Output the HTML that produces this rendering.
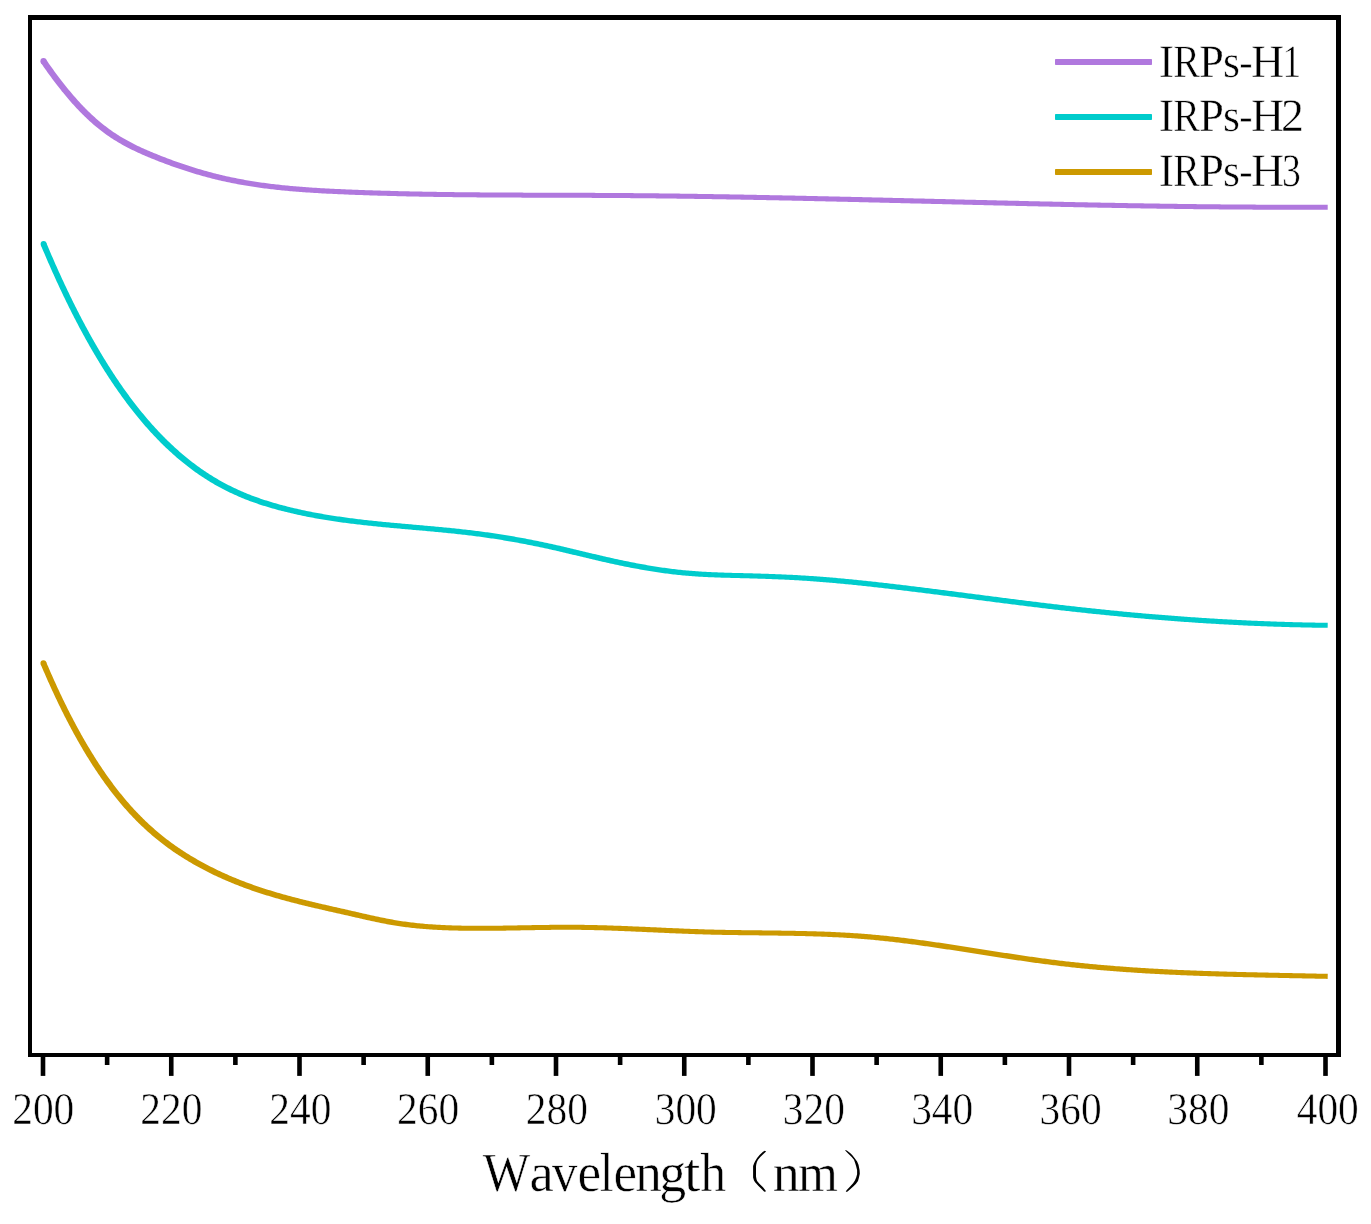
<!DOCTYPE html>
<html><head><meta charset="utf-8"><style>
html,body{margin:0;padding:0;background:#fff;width:1371px;height:1224px;overflow:hidden}
svg{display:block;will-change:transform}
text{font-family:"Liberation Serif",serif;fill:#000;text-rendering:geometricPrecision;stroke:#fff;stroke-width:0.5px}
</style></head><body>
<svg width="1371" height="1224" viewBox="0 0 1371 1224">
<path d="M40.95 62.96 L41.86 64.28 L42.77 65.60 L43.69 66.92 L44.61 68.24 L45.53 69.55 L46.46 70.86 L47.40 72.17 L48.33 73.47 L49.28 74.77 L50.22 76.07 L51.18 77.37 L52.13 78.66 L53.09 79.95 L54.06 81.23 L55.03 82.51 L56.01 83.79 L56.99 85.07 L57.98 86.34 L58.97 87.60 L59.97 88.86 L60.97 90.12 L61.98 91.38 L63.00 92.62 L64.02 93.87 L65.04 95.11 L66.08 96.35 L67.12 97.58 L68.16 98.80 L69.21 100.02 L70.27 101.24 L71.34 102.45 L72.41 103.65 L73.49 104.85 L74.58 106.04 L75.67 107.23 L76.77 108.41 L77.88 109.58 L79.00 110.75 L80.12 111.91 L81.25 113.06 L82.39 114.20 L83.54 115.34 L84.70 116.47 L85.87 117.59 L87.04 118.70 L88.22 119.81 L89.41 120.90 L90.62 121.99 L91.83 123.06 L93.04 124.13 L94.27 125.19 L95.51 126.23 L96.76 127.27 L98.01 128.29 L99.28 129.31 L100.56 130.31 L101.84 131.30 L103.14 132.28 L104.44 133.25 L105.76 134.20 L107.08 135.14 L108.41 136.07 L109.76 136.99 L111.11 137.89 L112.47 138.78 L113.83 139.65 L115.21 140.52 L116.59 141.37 L117.98 142.20 L119.38 143.03 L120.79 143.84 L122.20 144.64 L123.62 145.43 L125.04 146.20 L126.47 146.96 L127.91 147.71 L129.35 148.45 L130.80 149.18 L132.25 149.90 L133.70 150.60 L135.16 151.30 L136.63 151.99 L138.10 152.66 L139.57 153.33 L141.04 153.99 L142.52 154.64 L144.00 155.28 L145.48 155.92 L146.97 156.55 L148.45 157.17 L149.94 157.78 L151.43 158.40 L152.92 159.00 L154.41 159.60 L155.90 160.20 L157.40 160.79 L158.89 161.38 L160.39 161.96 L161.89 162.54 L163.40 163.11 L164.90 163.68 L166.41 164.24 L167.92 164.80 L169.43 165.35 L170.94 165.90 L172.45 166.45 L173.97 166.98 L175.49 167.52 L177.01 168.04 L178.53 168.57 L180.05 169.08 L181.58 169.60 L183.11 170.10 L184.64 170.60 L186.17 171.10 L187.70 171.59 L189.24 172.07 L190.77 172.55 L192.31 173.03 L193.85 173.49 L195.39 173.96 L196.94 174.41 L198.48 174.86 L200.03 175.31 L201.58 175.75 L203.13 176.18 L204.68 176.61 L206.24 177.03 L207.79 177.44 L209.35 177.85 L210.91 178.25 L212.47 178.65 L214.03 179.04 L215.60 179.42 L217.16 179.80 L218.73 180.17 L220.30 180.54 L221.87 180.89 L223.44 181.25 L225.01 181.59 L226.59 181.93 L228.16 182.27 L229.74 182.59 L231.31 182.92 L232.89 183.23 L234.47 183.54 L236.05 183.85 L237.63 184.14 L239.22 184.44 L240.80 184.72 L242.39 185.00 L243.97 185.28 L245.56 185.55 L247.14 185.81 L248.73 186.07 L250.32 186.33 L251.91 186.58 L253.50 186.82 L255.09 187.06 L256.68 187.29 L258.27 187.52 L259.86 187.75 L261.46 187.96 L263.05 188.18 L264.64 188.39 L266.24 188.59 L267.83 188.79 L269.43 188.99 L271.03 189.18 L272.62 189.36 L274.22 189.55 L275.81 189.73 L277.41 189.90 L279.01 190.07 L280.61 190.24 L282.21 190.40 L283.80 190.56 L285.40 190.71 L287.00 190.86 L288.60 191.01 L290.20 191.15 L291.80 191.29 L293.40 191.43 L295.00 191.56 L296.60 191.69 L298.20 191.82 L299.80 191.94 L301.40 192.06 L303.00 192.18 L304.60 192.29 L306.20 192.40 L307.80 192.51 L309.40 192.62 L311.00 192.72 L312.60 192.82 L314.20 192.92 L315.81 193.02 L317.41 193.11 L319.01 193.21 L320.61 193.30 L322.21 193.38 L323.81 193.47 L325.41 193.55 L327.01 193.64 L328.61 193.72 L330.21 193.79 L331.81 193.87 L333.41 193.95 L335.02 194.02 L336.62 194.09 L338.22 194.16 L339.82 194.23 L341.42 194.30 L343.02 194.37 L344.62 194.44 L346.22 194.50 L347.82 194.57 L349.42 194.63 L351.02 194.70 L352.62 194.76 L354.22 194.82 L355.82 194.88 L357.42 194.94 L359.02 195.00 L360.62 195.06 L362.22 195.11 L363.82 195.17 L365.42 195.22 L367.02 195.28 L368.62 195.33 L370.22 195.39 L371.82 195.44 L373.42 195.49 L375.02 195.54 L376.63 195.59 L378.23 195.64 L379.83 195.68 L381.43 195.73 L383.03 195.78 L384.63 195.82 L386.23 195.87 L387.83 195.91 L389.43 195.95 L391.03 196.00 L392.63 196.04 L394.23 196.08 L395.83 196.12 L397.43 196.16 L399.03 196.20 L400.63 196.23 L402.23 196.27 L403.84 196.31 L405.44 196.34 L407.04 196.38 L408.64 196.41 L410.24 196.45 L411.84 196.48 L413.44 196.51 L415.04 196.55 L416.64 196.58 L418.24 196.61 L419.84 196.64 L421.44 196.67 L423.04 196.70 L424.64 196.73 L426.24 196.75 L427.85 196.78 L429.45 196.81 L431.05 196.83 L432.65 196.86 L434.25 196.88 L435.85 196.91 L437.45 196.93 L439.05 196.96 L440.65 196.98 L442.25 197.00 L443.85 197.02 L445.45 197.04 L447.05 197.06 L448.65 197.09 L450.25 197.10 L451.86 197.12 L453.46 197.14 L455.06 197.16 L456.66 197.18 L458.26 197.20 L459.86 197.21 L461.46 197.23 L463.06 197.25 L464.66 197.26 L466.26 197.28 L467.86 197.29 L469.46 197.31 L471.06 197.32 L472.66 197.34 L474.26 197.35 L475.86 197.36 L477.46 197.38 L479.06 197.39 L480.67 197.40 L482.27 197.41 L483.87 197.43 L485.47 197.44 L487.07 197.45 L488.67 197.46 L490.27 197.47 L491.87 197.48 L493.47 197.49 L495.07 197.50 L496.67 197.51 L498.27 197.52 L499.87 197.53 L501.47 197.54 L503.07 197.54 L504.67 197.55 L506.27 197.56 L507.87 197.57 L509.47 197.58 L511.07 197.58 L512.67 197.59 L514.27 197.60 L515.87 197.60 L517.47 197.61 L519.07 197.62 L520.67 197.62 L522.27 197.63 L523.87 197.64 L525.47 197.64 L527.07 197.65 L528.67 197.65 L530.28 197.66 L531.88 197.67 L533.48 197.67 L535.08 197.68 L536.68 197.68 L538.28 197.69 L539.88 197.69 L541.48 197.70 L543.08 197.70 L544.68 197.71 L546.28 197.71 L547.88 197.72 L549.48 197.72 L551.08 197.73 L552.68 197.73 L554.28 197.74 L555.88 197.74 L557.48 197.75 L559.08 197.75 L560.68 197.76 L562.28 197.76 L563.88 197.77 L565.48 197.77 L567.08 197.78 L568.68 197.78 L570.28 197.79 L571.88 197.80 L573.48 197.80 L575.07 197.81 L576.67 197.81 L578.27 197.82 L579.87 197.82 L581.47 197.83 L583.07 197.84 L584.67 197.84 L586.27 197.85 L587.87 197.86 L589.47 197.86 L591.07 197.87 L592.67 197.88 L594.27 197.89 L595.87 197.89 L597.47 197.90 L599.07 197.91 L600.67 197.92 L602.27 197.93 L603.87 197.94 L605.47 197.95 L607.07 197.96 L608.67 197.96 L610.27 197.97 L611.87 197.98 L613.47 198.00 L615.07 198.01 L616.67 198.02 L618.27 198.03 L619.87 198.04 L621.46 198.05 L623.06 198.06 L624.66 198.08 L626.26 198.09 L627.86 198.10 L629.46 198.12 L631.06 198.13 L632.66 198.14 L634.26 198.16 L635.86 198.17 L637.46 198.19 L639.06 198.20 L640.66 198.22 L642.26 198.23 L643.86 198.25 L645.46 198.26 L647.06 198.28 L648.66 198.30 L650.26 198.31 L651.86 198.33 L653.45 198.35 L655.05 198.36 L656.65 198.38 L658.25 198.40 L659.85 198.42 L661.45 198.44 L663.05 198.46 L664.65 198.47 L666.25 198.49 L667.85 198.51 L669.45 198.53 L671.05 198.55 L672.65 198.57 L674.25 198.59 L675.85 198.61 L677.45 198.63 L679.05 198.66 L680.65 198.68 L682.25 198.70 L683.85 198.72 L685.45 198.74 L687.04 198.76 L688.64 198.79 L690.24 198.81 L691.84 198.83 L693.44 198.86 L695.04 198.88 L696.64 198.90 L698.24 198.93 L699.84 198.95 L701.44 198.97 L703.04 199.00 L704.64 199.02 L706.24 199.05 L707.84 199.07 L709.44 199.10 L711.04 199.12 L712.64 199.15 L714.24 199.17 L715.84 199.20 L717.43 199.23 L719.03 199.25 L720.63 199.28 L722.23 199.31 L723.83 199.33 L725.43 199.36 L727.03 199.39 L728.63 199.41 L730.23 199.44 L731.83 199.47 L733.43 199.50 L735.03 199.53 L736.63 199.55 L738.23 199.58 L739.83 199.61 L741.43 199.64 L743.03 199.67 L744.63 199.70 L746.23 199.73 L747.82 199.76 L749.42 199.79 L751.02 199.82 L752.62 199.85 L754.22 199.88 L755.82 199.91 L757.42 199.94 L759.02 199.97 L760.62 200.00 L762.22 200.03 L763.82 200.06 L765.42 200.09 L767.02 200.13 L768.62 200.16 L770.22 200.19 L771.82 200.22 L773.42 200.25 L775.02 200.28 L776.62 200.32 L778.21 200.35 L779.81 200.38 L781.41 200.41 L783.01 200.45 L784.61 200.48 L786.21 200.51 L787.81 200.55 L789.41 200.58 L791.01 200.61 L792.61 200.65 L794.21 200.68 L795.81 200.71 L797.41 200.75 L799.01 200.78 L800.61 200.82 L802.21 200.85 L803.81 200.89 L805.41 200.92 L807.00 200.95 L808.60 200.99 L810.20 201.02 L811.80 201.06 L813.40 201.09 L815.00 201.13 L816.60 201.17 L818.20 201.20 L819.80 201.24 L821.40 201.27 L823.00 201.31 L824.60 201.34 L826.20 201.38 L827.80 201.42 L829.40 201.45 L831.00 201.49 L832.60 201.52 L834.20 201.56 L835.79 201.60 L837.39 201.63 L838.99 201.67 L840.59 201.71 L842.19 201.74 L843.79 201.78 L845.39 201.82 L846.99 201.85 L848.59 201.89 L850.19 201.93 L851.79 201.97 L853.39 202.00 L854.99 202.04 L856.59 202.08 L858.19 202.11 L859.79 202.15 L861.39 202.19 L862.99 202.23 L864.58 202.27 L866.18 202.30 L867.78 202.34 L869.38 202.38 L870.98 202.42 L872.58 202.45 L874.18 202.49 L875.78 202.53 L877.38 202.57 L878.98 202.61 L880.58 202.65 L882.18 202.68 L883.78 202.72 L885.38 202.76 L886.98 202.80 L888.58 202.84 L890.18 202.88 L891.78 202.91 L893.38 202.95 L894.97 202.99 L896.57 203.03 L898.17 203.07 L899.77 203.11 L901.37 203.15 L902.97 203.18 L904.57 203.22 L906.17 203.26 L907.77 203.30 L909.37 203.34 L910.97 203.38 L912.57 203.42 L914.17 203.46 L915.77 203.49 L917.37 203.53 L918.97 203.57 L920.57 203.61 L922.17 203.65 L923.77 203.69 L925.37 203.73 L926.96 203.77 L928.56 203.81 L930.16 203.84 L931.76 203.88 L933.36 203.92 L934.96 203.96 L936.56 204.00 L938.16 204.04 L939.76 204.08 L941.36 204.12 L942.96 204.16 L944.56 204.19 L946.16 204.23 L947.76 204.27 L949.36 204.31 L950.96 204.35 L952.56 204.39 L954.16 204.43 L955.76 204.47 L957.36 204.50 L958.96 204.54 L960.56 204.58 L962.16 204.62 L963.75 204.66 L965.35 204.70 L966.95 204.73 L968.55 204.77 L970.15 204.81 L971.75 204.85 L973.35 204.89 L974.95 204.93 L976.55 204.96 L978.15 205.00 L979.75 205.04 L981.35 205.08 L982.95 205.12 L984.55 205.16 L986.15 205.19 L987.75 205.23 L989.35 205.27 L990.95 205.31 L992.55 205.34 L994.15 205.38 L995.75 205.42 L997.35 205.46 L998.95 205.49 L1000.55 205.53 L1002.15 205.57 L1003.75 205.61 L1005.35 205.64 L1006.94 205.68 L1008.54 205.72 L1010.14 205.75 L1011.74 205.79 L1013.34 205.83 L1014.94 205.86 L1016.54 205.90 L1018.14 205.94 L1019.74 205.97 L1021.34 206.01 L1022.94 206.05 L1024.54 206.08 L1026.14 206.12 L1027.74 206.16 L1029.34 206.19 L1030.94 206.23 L1032.54 206.26 L1034.14 206.30 L1035.74 206.33 L1037.34 206.37 L1038.94 206.41 L1040.54 206.44 L1042.14 206.48 L1043.74 206.51 L1045.34 206.55 L1046.94 206.58 L1048.54 206.62 L1050.14 206.65 L1051.74 206.68 L1053.34 206.72 L1054.94 206.75 L1056.54 206.79 L1058.14 206.82 L1059.74 206.86 L1061.34 206.89 L1062.94 206.92 L1064.54 206.96 L1066.14 206.99 L1067.74 207.02 L1069.34 207.06 L1070.94 207.09 L1072.54 207.12 L1074.14 207.15 L1075.74 207.19 L1077.34 207.22 L1078.93 207.25 L1080.53 207.28 L1082.13 207.32 L1083.73 207.35 L1085.33 207.38 L1086.93 207.41 L1088.53 207.44 L1090.13 207.48 L1091.73 207.51 L1093.33 207.54 L1094.93 207.57 L1096.53 207.60 L1098.13 207.63 L1099.73 207.66 L1101.33 207.69 L1102.93 207.72 L1104.53 207.75 L1106.13 207.78 L1107.73 207.81 L1109.33 207.84 L1110.93 207.87 L1112.53 207.90 L1114.13 207.93 L1115.73 207.96 L1117.33 207.98 L1118.93 208.01 L1120.53 208.04 L1122.13 208.07 L1123.73 208.10 L1125.33 208.12 L1126.93 208.15 L1128.53 208.18 L1130.13 208.21 L1131.73 208.23 L1133.33 208.26 L1134.93 208.29 L1136.53 208.31 L1138.13 208.34 L1139.73 208.37 L1141.33 208.39 L1142.93 208.42 L1144.53 208.44 L1146.14 208.47 L1147.74 208.49 L1149.34 208.52 L1150.94 208.54 L1152.54 208.57 L1154.14 208.59 L1155.74 208.62 L1157.34 208.64 L1158.94 208.66 L1160.54 208.69 L1162.14 208.71 L1163.74 208.73 L1165.34 208.76 L1166.94 208.78 L1168.54 208.80 L1170.14 208.82 L1171.74 208.84 L1173.34 208.87 L1174.94 208.89 L1176.54 208.91 L1178.14 208.93 L1179.74 208.95 L1181.34 208.97 L1182.94 208.99 L1184.54 209.01 L1186.14 209.03 L1187.74 209.05 L1189.34 209.07 L1190.94 209.09 L1192.54 209.11 L1194.14 209.13 L1195.74 209.14 L1197.34 209.16 L1198.94 209.18 L1200.54 209.20 L1202.14 209.22 L1203.74 209.23 L1205.34 209.25 L1206.94 209.27 L1208.54 209.28 L1210.14 209.30 L1211.74 209.31 L1213.34 209.33 L1214.94 209.34 L1216.55 209.36 L1218.15 209.37 L1219.75 209.39 L1221.35 209.40 L1222.95 209.42 L1224.55 209.43 L1226.15 209.44 L1227.75 209.46 L1229.35 209.47 L1230.95 209.48 L1232.55 209.50 L1234.15 209.51 L1235.75 209.52 L1237.35 209.53 L1238.95 209.54 L1240.55 209.55 L1242.15 209.56 L1243.75 209.57 L1245.35 209.58 L1246.95 209.59 L1248.55 209.60 L1250.15 209.61 L1251.75 209.62 L1253.35 209.63 L1254.95 209.64 L1256.56 209.65 L1258.16 209.65 L1259.76 209.66 L1261.36 209.67 L1262.96 209.67 L1264.56 209.68 L1266.16 209.69 L1267.76 209.69 L1269.36 209.70 L1270.96 209.70 L1272.56 209.71 L1274.16 209.71 L1275.76 209.72 L1277.36 209.72 L1278.96 209.72 L1280.56 209.73 L1282.16 209.73 L1283.76 209.73 L1285.36 209.74 L1286.96 209.74 L1288.56 209.74 L1290.17 209.74 L1291.77 209.74 L1293.37 209.74 L1294.97 209.74 L1296.57 209.74 L1298.17 209.74 L1299.77 209.74 L1301.37 209.74 L1302.97 209.74 L1304.57 209.74 L1306.17 209.74 L1307.77 209.74 L1309.37 209.73 L1310.97 209.73 L1312.57 209.73 L1314.17 209.73 L1315.77 209.72 L1317.37 209.72 L1318.98 209.71 L1320.58 209.71 L1322.18 209.70 L1323.78 209.70 L1325.38 209.69 L1325.51 209.69 L1327.71 209.68 L1327.69 204.67 L1325.49 204.68 L1325.36 204.68 L1323.76 204.69 L1322.16 204.69 L1320.56 204.70 L1318.96 204.71 L1317.36 204.71 L1315.76 204.71 L1314.16 204.72 L1312.56 204.72 L1310.96 204.73 L1309.36 204.73 L1307.76 204.73 L1306.16 204.73 L1304.57 204.74 L1302.97 204.74 L1301.37 204.74 L1299.77 204.74 L1298.17 204.74 L1296.57 204.74 L1294.97 204.74 L1293.37 204.74 L1291.77 204.74 L1290.17 204.74 L1288.57 204.74 L1286.97 204.73 L1285.37 204.73 L1283.77 204.73 L1282.17 204.72 L1280.57 204.72 L1278.97 204.72 L1277.37 204.71 L1275.77 204.71 L1274.18 204.70 L1272.58 204.70 L1270.98 204.69 L1269.38 204.69 L1267.78 204.68 L1266.18 204.68 L1264.58 204.67 L1262.98 204.66 L1261.38 204.65 L1259.78 204.65 L1258.18 204.64 L1256.58 204.63 L1254.98 204.62 L1253.38 204.61 L1251.78 204.60 L1250.18 204.59 L1248.58 204.58 L1246.98 204.57 L1245.38 204.56 L1243.78 204.55 L1242.19 204.54 L1240.59 204.53 L1238.99 204.52 L1237.39 204.51 L1235.79 204.50 L1234.19 204.48 L1232.59 204.47 L1230.99 204.46 L1229.39 204.45 L1227.79 204.43 L1226.19 204.42 L1224.59 204.41 L1222.99 204.39 L1221.39 204.38 L1219.79 204.36 L1218.19 204.35 L1216.59 204.33 L1214.99 204.32 L1213.39 204.30 L1211.79 204.28 L1210.19 204.27 L1208.60 204.25 L1207.00 204.23 L1205.40 204.22 L1203.80 204.20 L1202.20 204.18 L1200.60 204.16 L1199.00 204.15 L1197.40 204.13 L1195.80 204.11 L1194.20 204.09 L1192.60 204.07 L1191.00 204.05 L1189.40 204.03 L1187.80 204.01 L1186.20 203.99 L1184.60 203.97 L1183.00 203.95 L1181.40 203.93 L1179.80 203.91 L1178.20 203.89 L1176.61 203.87 L1175.01 203.85 L1173.41 203.83 L1171.81 203.80 L1170.21 203.78 L1168.61 203.76 L1167.01 203.74 L1165.41 203.71 L1163.81 203.69 L1162.21 203.67 L1160.61 203.64 L1159.01 203.62 L1157.41 203.60 L1155.81 203.57 L1154.21 203.55 L1152.61 203.52 L1151.01 203.50 L1149.41 203.47 L1147.81 203.45 L1146.21 203.42 L1144.62 203.40 L1143.02 203.37 L1141.42 203.34 L1139.82 203.32 L1138.22 203.29 L1136.62 203.26 L1135.02 203.24 L1133.42 203.21 L1131.82 203.18 L1130.22 203.16 L1128.62 203.13 L1127.02 203.10 L1125.42 203.07 L1123.82 203.05 L1122.22 203.02 L1120.62 202.99 L1119.02 202.96 L1117.42 202.93 L1115.83 202.90 L1114.23 202.87 L1112.63 202.84 L1111.03 202.81 L1109.43 202.79 L1107.83 202.76 L1106.23 202.73 L1104.63 202.70 L1103.03 202.66 L1101.43 202.63 L1099.83 202.60 L1098.23 202.57 L1096.63 202.54 L1095.03 202.51 L1093.43 202.48 L1091.83 202.45 L1090.23 202.42 L1088.63 202.39 L1087.03 202.35 L1085.44 202.32 L1083.84 202.29 L1082.24 202.26 L1080.64 202.23 L1079.04 202.19 L1077.44 202.16 L1075.84 202.13 L1074.24 202.09 L1072.64 202.06 L1071.04 202.03 L1069.44 202.00 L1067.84 201.96 L1066.24 201.93 L1064.64 201.89 L1063.04 201.86 L1061.44 201.83 L1059.84 201.79 L1058.24 201.76 L1056.65 201.72 L1055.05 201.69 L1053.45 201.66 L1051.85 201.62 L1050.25 201.59 L1048.65 201.55 L1047.05 201.52 L1045.45 201.48 L1043.85 201.45 L1042.25 201.41 L1040.65 201.38 L1039.05 201.34 L1037.45 201.31 L1035.85 201.27 L1034.25 201.23 L1032.65 201.20 L1031.05 201.16 L1029.45 201.13 L1027.86 201.09 L1026.26 201.05 L1024.66 201.02 L1023.06 200.98 L1021.46 200.94 L1019.86 200.91 L1018.26 200.87 L1016.66 200.83 L1015.06 200.80 L1013.46 200.76 L1011.86 200.72 L1010.26 200.69 L1008.66 200.65 L1007.06 200.61 L1005.46 200.58 L1003.86 200.54 L1002.26 200.50 L1000.66 200.46 L999.07 200.43 L997.47 200.39 L995.87 200.35 L994.27 200.31 L992.67 200.28 L991.07 200.24 L989.47 200.20 L987.87 200.16 L986.27 200.12 L984.67 200.09 L983.07 200.05 L981.47 200.01 L979.87 199.97 L978.27 199.93 L976.67 199.90 L975.07 199.86 L973.47 199.82 L971.87 199.78 L970.27 199.74 L968.68 199.70 L967.08 199.66 L965.48 199.63 L963.88 199.59 L962.28 199.55 L960.68 199.51 L959.08 199.47 L957.48 199.43 L955.88 199.39 L954.28 199.36 L952.68 199.32 L951.08 199.28 L949.48 199.24 L947.88 199.20 L946.28 199.16 L944.68 199.12 L943.08 199.08 L941.48 199.05 L939.88 199.01 L938.28 198.97 L936.69 198.93 L935.09 198.89 L933.49 198.85 L931.89 198.81 L930.29 198.77 L928.69 198.73 L927.09 198.70 L925.49 198.66 L923.89 198.62 L922.29 198.58 L920.69 198.54 L919.09 198.50 L917.49 198.46 L915.89 198.42 L914.29 198.38 L912.69 198.35 L911.09 198.31 L909.49 198.27 L907.89 198.23 L906.29 198.19 L904.69 198.15 L903.09 198.11 L901.50 198.08 L899.90 198.04 L898.30 198.00 L896.70 197.96 L895.10 197.92 L893.50 197.88 L891.90 197.84 L890.30 197.81 L888.70 197.77 L887.10 197.73 L885.50 197.69 L883.90 197.65 L882.30 197.61 L880.70 197.58 L879.10 197.54 L877.50 197.50 L875.90 197.46 L874.30 197.42 L872.70 197.39 L871.10 197.35 L869.50 197.31 L867.90 197.27 L866.30 197.23 L864.70 197.20 L863.10 197.16 L861.50 197.12 L859.91 197.08 L858.31 197.05 L856.71 197.01 L855.11 196.97 L853.51 196.93 L851.91 196.90 L850.31 196.86 L848.71 196.82 L847.11 196.79 L845.51 196.75 L843.91 196.71 L842.31 196.68 L840.71 196.64 L839.11 196.60 L837.51 196.57 L835.91 196.53 L834.31 196.49 L832.71 196.46 L831.11 196.42 L829.51 196.39 L827.91 196.35 L826.31 196.31 L824.71 196.28 L823.11 196.24 L821.51 196.21 L819.91 196.17 L818.31 196.14 L816.71 196.10 L815.11 196.07 L813.51 196.03 L811.91 196.00 L810.31 195.96 L808.71 195.93 L807.11 195.89 L805.51 195.86 L803.91 195.82 L802.31 195.79 L800.71 195.75 L799.12 195.72 L797.52 195.69 L795.92 195.65 L794.32 195.62 L792.72 195.59 L791.12 195.55 L789.52 195.52 L787.92 195.49 L786.32 195.45 L784.72 195.42 L783.12 195.39 L781.52 195.35 L779.92 195.32 L778.32 195.29 L776.72 195.26 L775.12 195.23 L773.52 195.19 L771.92 195.16 L770.32 195.13 L768.72 195.10 L767.12 195.07 L765.52 195.04 L763.92 195.01 L762.32 194.97 L760.72 194.94 L759.12 194.91 L757.52 194.88 L755.92 194.85 L754.32 194.82 L752.72 194.79 L751.12 194.76 L749.52 194.73 L747.92 194.70 L746.32 194.67 L744.72 194.65 L743.12 194.62 L741.52 194.59 L739.92 194.56 L738.32 194.53 L736.72 194.50 L735.12 194.47 L733.52 194.45 L731.92 194.42 L730.32 194.39 L728.72 194.36 L727.12 194.34 L725.52 194.31 L723.92 194.28 L722.32 194.26 L720.72 194.23 L719.12 194.20 L717.52 194.18 L715.92 194.15 L714.32 194.13 L712.72 194.10 L711.12 194.08 L709.52 194.05 L707.92 194.03 L706.32 194.00 L704.72 193.98 L703.12 193.95 L701.52 193.93 L699.92 193.91 L698.32 193.88 L696.72 193.86 L695.12 193.84 L693.51 193.81 L691.91 193.79 L690.31 193.77 L688.71 193.75 L687.11 193.72 L685.51 193.70 L683.91 193.68 L682.31 193.66 L680.71 193.64 L679.11 193.62 L677.51 193.60 L675.91 193.58 L674.31 193.56 L672.71 193.54 L671.11 193.52 L669.51 193.50 L667.91 193.48 L666.31 193.46 L664.71 193.44 L663.11 193.42 L661.51 193.40 L659.91 193.38 L658.31 193.37 L656.71 193.35 L655.11 193.33 L653.51 193.31 L651.91 193.30 L650.31 193.28 L648.71 193.27 L647.11 193.25 L645.51 193.23 L643.91 193.22 L642.31 193.20 L640.71 193.19 L639.11 193.17 L637.51 193.16 L635.91 193.14 L634.30 193.13 L632.70 193.12 L631.10 193.10 L629.50 193.09 L627.90 193.08 L626.30 193.07 L624.70 193.05 L623.10 193.04 L621.50 193.03 L619.90 193.02 L618.30 193.01 L616.70 193.00 L615.10 192.99 L613.50 192.98 L611.90 192.97 L610.30 192.96 L608.70 192.95 L607.10 192.94 L605.50 192.93 L603.90 192.92 L602.30 192.91 L600.70 192.90 L599.10 192.90 L597.50 192.89 L595.90 192.88 L594.30 192.87 L592.70 192.87 L591.09 192.86 L589.49 192.85 L587.89 192.84 L586.29 192.84 L584.69 192.83 L583.09 192.83 L581.49 192.82 L579.89 192.81 L578.29 192.81 L576.69 192.80 L575.09 192.80 L573.49 192.79 L571.89 192.78 L570.29 192.78 L568.69 192.77 L567.09 192.77 L565.49 192.76 L563.89 192.76 L562.29 192.75 L560.69 192.75 L559.09 192.74 L557.49 192.74 L555.89 192.73 L554.29 192.73 L552.69 192.72 L551.09 192.72 L549.49 192.71 L547.89 192.71 L546.29 192.70 L544.69 192.70 L543.09 192.69 L541.49 192.69 L539.89 192.68 L538.29 192.68 L536.69 192.67 L535.09 192.67 L533.49 192.66 L531.89 192.65 L530.29 192.65 L528.69 192.64 L527.09 192.64 L525.49 192.63 L523.89 192.63 L522.29 192.62 L520.69 192.61 L519.09 192.61 L517.49 192.60 L515.90 192.59 L514.30 192.58 L512.70 192.58 L511.10 192.57 L509.50 192.56 L507.90 192.55 L506.30 192.55 L504.70 192.54 L503.10 192.53 L501.50 192.52 L499.90 192.51 L498.30 192.50 L496.70 192.49 L495.10 192.48 L493.50 192.47 L491.90 192.46 L490.30 192.45 L488.70 192.44 L487.10 192.43 L485.50 192.42 L483.90 192.40 L482.30 192.39 L480.70 192.38 L479.10 192.37 L477.51 192.35 L475.91 192.34 L474.31 192.33 L472.71 192.31 L471.11 192.30 L469.51 192.28 L467.91 192.27 L466.31 192.25 L464.71 192.23 L463.11 192.22 L461.51 192.20 L459.91 192.18 L458.31 192.16 L456.71 192.15 L455.12 192.13 L453.52 192.11 L451.92 192.09 L450.32 192.07 L448.72 192.05 L447.12 192.03 L445.52 192.00 L443.92 191.98 L442.32 191.96 L440.72 191.94 L439.12 191.91 L437.53 191.89 L435.93 191.86 L434.33 191.84 L432.73 191.81 L431.13 191.78 L429.53 191.76 L427.93 191.73 L426.33 191.70 L424.73 191.67 L423.14 191.64 L421.54 191.61 L419.94 191.58 L418.34 191.55 L416.74 191.52 L415.14 191.49 L413.54 191.45 L411.94 191.42 L410.35 191.39 L408.75 191.35 L407.15 191.31 L405.55 191.28 L403.95 191.24 L402.35 191.20 L400.76 191.16 L399.16 191.13 L397.56 191.09 L395.96 191.04 L394.36 191.00 L392.76 190.96 L391.17 190.92 L389.57 190.87 L387.97 190.83 L386.37 190.79 L384.77 190.74 L383.17 190.69 L381.58 190.65 L379.98 190.60 L378.38 190.55 L376.78 190.50 L375.19 190.45 L373.59 190.40 L371.99 190.34 L370.39 190.29 L368.79 190.24 L367.20 190.18 L365.60 190.13 L364.00 190.07 L362.40 190.01 L360.81 189.95 L359.21 189.89 L357.61 189.83 L356.01 189.77 L354.42 189.71 L352.82 189.65 L351.22 189.58 L349.62 189.52 L348.03 189.45 L346.43 189.39 L344.83 189.32 L343.24 189.25 L341.64 189.18 L340.04 189.11 L338.45 189.04 L336.85 188.96 L335.25 188.89 L333.66 188.81 L332.06 188.73 L330.47 188.65 L328.87 188.57 L327.28 188.49 L325.68 188.41 L324.09 188.32 L322.49 188.23 L320.90 188.14 L319.31 188.05 L317.71 187.95 L316.12 187.85 L314.53 187.75 L312.93 187.65 L311.34 187.54 L309.75 187.44 L308.16 187.33 L306.57 187.21 L304.98 187.10 L303.39 186.98 L301.79 186.86 L300.20 186.73 L298.62 186.60 L297.03 186.47 L295.44 186.34 L293.85 186.20 L292.26 186.06 L290.67 185.91 L289.09 185.76 L287.50 185.61 L285.91 185.46 L284.33 185.30 L282.74 185.13 L281.16 184.97 L279.58 184.80 L277.99 184.62 L276.41 184.44 L274.83 184.26 L273.25 184.07 L271.66 183.88 L270.08 183.68 L268.51 183.48 L266.93 183.27 L265.35 183.06 L263.77 182.85 L262.19 182.63 L260.62 182.41 L259.04 182.18 L257.47 181.94 L255.90 181.70 L254.33 181.46 L252.75 181.21 L251.18 180.96 L249.61 180.70 L248.05 180.43 L246.48 180.16 L244.91 179.89 L243.35 179.61 L241.78 179.32 L240.22 179.03 L238.66 178.73 L237.10 178.43 L235.54 178.12 L233.98 177.80 L232.43 177.48 L230.87 177.16 L229.32 176.83 L227.77 176.49 L226.22 176.14 L224.67 175.79 L223.12 175.44 L221.57 175.08 L220.03 174.71 L218.48 174.33 L216.94 173.95 L215.40 173.57 L213.86 173.17 L212.33 172.77 L210.79 172.37 L209.26 171.96 L207.73 171.54 L206.19 171.12 L204.66 170.69 L203.14 170.25 L201.61 169.81 L200.09 169.37 L198.56 168.92 L197.04 168.46 L195.52 168.00 L194.01 167.53 L192.49 167.05 L190.97 166.57 L189.46 166.09 L187.95 165.60 L186.44 165.10 L184.93 164.60 L183.43 164.09 L181.92 163.58 L180.42 163.07 L178.92 162.54 L177.42 162.02 L175.92 161.48 L174.43 160.95 L172.93 160.41 L171.44 159.86 L169.95 159.31 L168.46 158.75 L166.98 158.19 L165.49 157.62 L164.01 157.05 L162.53 156.47 L161.05 155.89 L159.57 155.31 L158.09 154.72 L156.62 154.12 L155.14 153.52 L153.67 152.92 L152.21 152.31 L150.74 151.70 L149.28 151.08 L147.82 150.45 L146.37 149.82 L144.92 149.19 L143.48 148.54 L142.04 147.89 L140.60 147.23 L139.17 146.56 L137.75 145.88 L136.33 145.19 L134.91 144.50 L133.51 143.79 L132.10 143.07 L130.71 142.35 L129.32 141.61 L127.94 140.86 L126.56 140.10 L125.19 139.33 L123.83 138.55 L122.48 137.76 L121.13 136.95 L119.79 136.14 L118.46 135.31 L117.14 134.47 L115.83 133.62 L114.52 132.75 L113.22 131.88 L111.93 130.99 L110.65 130.09 L109.38 129.18 L108.12 128.25 L106.86 127.32 L105.62 126.37 L104.38 125.41 L103.15 124.44 L101.93 123.46 L100.72 122.46 L99.52 121.46 L98.32 120.45 L97.14 119.42 L95.96 118.39 L94.79 117.34 L93.62 116.29 L92.47 115.22 L91.32 114.15 L90.18 113.07 L89.05 111.98 L87.92 110.88 L86.81 109.78 L85.70 108.66 L84.59 107.54 L83.50 106.41 L82.41 105.27 L81.32 104.13 L80.25 102.98 L79.18 101.82 L78.12 100.65 L77.06 99.48 L76.01 98.31 L74.96 97.12 L73.93 95.93 L72.89 94.74 L71.87 93.54 L70.85 92.33 L69.83 91.12 L68.82 89.90 L67.82 88.68 L66.82 87.46 L65.83 86.23 L64.84 84.99 L63.86 83.75 L62.88 82.51 L61.90 81.26 L60.94 80.01 L59.97 78.75 L59.01 77.49 L58.06 76.22 L57.11 74.95 L56.17 73.68 L55.22 72.41 L54.29 71.13 L53.36 69.84 L52.43 68.56 L51.51 67.27 L50.59 65.98 L49.67 64.68 L48.76 63.38 L47.85 62.08 L46.95 60.77 L46.05 59.47 Z" fill="#b078de"/><circle cx="43.50" cy="61.21" r="3.09" fill="#b078de"/>
<path d="M40.86 245.22 L41.48 246.70 L42.10 248.18 L42.72 249.65 L43.34 251.13 L43.97 252.60 L44.60 254.08 L45.23 255.55 L45.86 257.02 L46.49 258.49 L47.13 259.96 L47.76 261.43 L48.40 262.90 L49.04 264.37 L49.69 265.83 L50.33 267.30 L50.98 268.76 L51.63 270.23 L52.28 271.69 L52.94 273.15 L53.60 274.61 L54.25 276.07 L54.92 277.53 L55.58 278.99 L56.24 280.45 L56.91 281.90 L57.58 283.36 L58.26 284.81 L58.93 286.27 L59.61 287.72 L60.29 289.17 L60.97 290.62 L61.65 292.07 L62.34 293.51 L63.03 294.96 L63.72 296.41 L64.42 297.85 L65.12 299.29 L65.82 300.73 L66.52 302.17 L67.22 303.61 L67.93 305.05 L68.64 306.49 L69.35 307.92 L70.07 309.36 L70.79 310.79 L71.51 312.22 L72.23 313.65 L72.96 315.08 L73.69 316.51 L74.42 317.93 L75.15 319.36 L75.89 320.78 L76.63 322.20 L77.37 323.62 L78.12 325.04 L78.87 326.46 L79.62 327.88 L80.38 329.29 L81.13 330.70 L81.89 332.12 L82.66 333.52 L83.43 334.93 L84.20 336.34 L84.97 337.74 L85.75 339.15 L86.53 340.55 L87.31 341.95 L88.10 343.34 L88.89 344.74 L89.68 346.14 L90.48 347.53 L91.28 348.92 L92.08 350.31 L92.89 351.69 L93.69 353.08 L94.51 354.46 L95.33 355.84 L96.15 357.22 L96.97 358.60 L97.80 359.97 L98.63 361.34 L99.46 362.71 L100.30 364.08 L101.15 365.45 L101.99 366.81 L102.84 368.17 L103.70 369.53 L104.55 370.89 L105.41 372.24 L106.28 373.60 L107.15 374.94 L108.02 376.29 L108.90 377.64 L109.78 378.98 L110.67 380.32 L111.56 381.65 L112.45 382.99 L113.35 384.32 L114.25 385.65 L115.16 386.97 L116.07 388.30 L116.98 389.62 L117.90 390.93 L118.83 392.25 L119.76 393.56 L120.69 394.87 L121.63 396.17 L122.57 397.47 L123.52 398.77 L124.47 400.07 L125.42 401.36 L126.39 402.65 L127.35 403.93 L128.32 405.21 L129.30 406.49 L130.28 407.77 L131.26 409.04 L132.25 410.31 L133.25 411.57 L134.25 412.83 L135.25 414.08 L136.26 415.34 L137.28 416.58 L138.30 417.83 L139.32 419.07 L140.35 420.30 L141.39 421.53 L142.43 422.76 L143.48 423.98 L144.53 425.20 L145.59 426.41 L146.65 427.62 L147.72 428.83 L148.80 430.02 L149.88 431.22 L150.96 432.41 L152.06 433.59 L153.15 434.77 L154.26 435.95 L155.37 437.11 L156.48 438.28 L157.60 439.44 L158.73 440.59 L159.86 441.73 L161.00 442.88 L162.14 444.01 L163.29 445.14 L164.45 446.26 L165.61 447.38 L166.78 448.49 L167.96 449.60 L169.14 450.70 L170.32 451.79 L171.52 452.87 L172.72 453.95 L173.92 455.03 L175.13 456.09 L176.35 457.15 L177.58 458.20 L178.81 459.25 L180.05 460.28 L181.29 461.31 L182.54 462.34 L183.79 463.35 L185.06 464.36 L186.33 465.36 L187.60 466.35 L188.88 467.33 L190.17 468.31 L191.47 469.28 L192.77 470.23 L194.07 471.19 L195.39 472.13 L196.71 473.06 L198.03 473.99 L199.36 474.90 L200.70 475.81 L202.05 476.71 L203.40 477.60 L204.75 478.48 L206.12 479.35 L207.49 480.21 L208.86 481.06 L210.24 481.91 L211.63 482.74 L213.02 483.56 L214.42 484.38 L215.82 485.18 L217.23 485.98 L218.65 486.76 L220.07 487.53 L221.50 488.30 L222.93 489.05 L224.37 489.79 L225.81 490.53 L227.26 491.25 L228.71 491.96 L230.17 492.66 L231.63 493.36 L233.10 494.04 L234.57 494.71 L236.05 495.37 L237.53 496.02 L239.01 496.67 L240.50 497.30 L241.99 497.92 L243.49 498.53 L244.99 499.13 L246.50 499.73 L248.00 500.31 L249.51 500.88 L251.03 501.45 L252.55 502.00 L254.07 502.55 L255.59 503.08 L257.12 503.61 L258.65 504.13 L260.18 504.64 L261.72 505.14 L263.25 505.63 L264.79 506.11 L266.33 506.59 L267.88 507.06 L269.42 507.52 L270.97 507.97 L272.52 508.42 L274.07 508.85 L275.63 509.29 L277.18 509.71 L278.74 510.13 L280.30 510.54 L281.86 510.94 L283.42 511.34 L284.98 511.73 L286.54 512.12 L288.10 512.50 L289.67 512.87 L291.24 513.24 L292.80 513.60 L294.37 513.96 L295.94 514.31 L297.51 514.66 L299.09 515.00 L300.66 515.34 L302.23 515.67 L303.81 515.99 L305.39 516.31 L306.96 516.63 L308.54 516.94 L310.12 517.24 L311.70 517.55 L313.28 517.84 L314.86 518.13 L316.44 518.42 L318.03 518.70 L319.61 518.98 L321.19 519.25 L322.78 519.52 L324.36 519.78 L325.95 520.04 L327.54 520.29 L329.12 520.54 L330.71 520.79 L332.30 521.03 L333.89 521.27 L335.48 521.51 L337.07 521.74 L338.66 521.97 L340.25 522.19 L341.84 522.41 L343.43 522.63 L345.02 522.84 L346.61 523.05 L348.20 523.26 L349.79 523.46 L351.39 523.66 L352.98 523.86 L354.57 524.05 L356.17 524.24 L357.76 524.43 L359.35 524.62 L360.95 524.80 L362.54 524.98 L364.14 525.16 L365.73 525.34 L367.32 525.51 L368.92 525.68 L370.51 525.85 L372.11 526.02 L373.70 526.18 L375.30 526.35 L376.89 526.51 L378.49 526.67 L380.08 526.82 L381.68 526.98 L383.27 527.13 L384.87 527.29 L386.46 527.44 L388.06 527.59 L389.65 527.74 L391.25 527.89 L392.84 528.03 L394.44 528.18 L396.03 528.32 L397.63 528.47 L399.22 528.61 L400.82 528.76 L402.41 528.90 L404.01 529.04 L405.60 529.18 L407.19 529.32 L408.79 529.46 L410.38 529.60 L411.98 529.74 L413.57 529.88 L415.16 530.02 L416.76 530.17 L418.35 530.31 L419.94 530.45 L421.54 530.59 L423.13 530.73 L424.72 530.87 L426.32 531.02 L427.91 531.16 L429.50 531.30 L431.09 531.45 L432.68 531.60 L434.28 531.74 L435.87 531.89 L437.46 532.04 L439.05 532.19 L440.64 532.35 L442.23 532.50 L443.82 532.66 L445.41 532.81 L447.00 532.97 L448.59 533.13 L450.18 533.29 L451.77 533.46 L453.35 533.62 L454.94 533.79 L456.53 533.96 L458.12 534.13 L459.70 534.31 L461.29 534.48 L462.88 534.66 L464.46 534.84 L466.05 535.03 L467.63 535.22 L469.22 535.41 L470.80 535.60 L472.38 535.79 L473.97 535.99 L475.55 536.19 L477.13 536.40 L478.71 536.61 L480.29 536.82 L481.87 537.03 L483.45 537.25 L485.03 537.47 L486.61 537.69 L488.19 537.92 L489.77 538.15 L491.34 538.39 L492.92 538.62 L494.50 538.87 L496.07 539.11 L497.65 539.36 L499.22 539.61 L500.80 539.86 L502.37 540.12 L503.94 540.38 L505.52 540.64 L507.09 540.91 L508.66 541.18 L510.23 541.45 L511.80 541.72 L513.37 542.00 L514.94 542.28 L516.51 542.57 L518.08 542.85 L519.65 543.15 L521.22 543.44 L522.79 543.73 L524.35 544.03 L525.92 544.34 L527.49 544.64 L529.05 544.95 L530.61 545.26 L532.18 545.57 L533.74 545.89 L535.31 546.21 L536.87 546.53 L538.43 546.86 L539.99 547.18 L541.55 547.51 L543.11 547.85 L544.67 548.18 L546.23 548.52 L547.79 548.86 L549.35 549.21 L550.91 549.55 L552.46 549.90 L554.02 550.25 L555.58 550.61 L557.13 550.96 L558.69 551.32 L560.24 551.68 L561.80 552.05 L563.35 552.41 L564.91 552.78 L566.46 553.14 L568.02 553.51 L569.57 553.88 L571.12 554.25 L572.68 554.63 L574.23 555.00 L575.79 555.37 L577.35 555.75 L578.90 556.12 L580.46 556.49 L582.01 556.87 L583.57 557.24 L585.13 557.61 L586.68 557.98 L588.24 558.36 L589.80 558.73 L591.36 559.10 L592.92 559.46 L594.48 559.83 L596.04 560.20 L597.60 560.56 L599.16 560.92 L600.72 561.28 L602.29 561.64 L603.85 561.99 L605.41 562.35 L606.98 562.70 L608.54 563.05 L610.11 563.39 L611.68 563.73 L613.25 564.08 L614.81 564.41 L616.38 564.75 L617.95 565.08 L619.52 565.41 L621.09 565.74 L622.67 566.06 L624.24 566.38 L625.81 566.70 L627.39 567.02 L628.96 567.33 L630.54 567.64 L632.11 567.94 L633.69 568.24 L635.27 568.54 L636.85 568.83 L638.43 569.12 L640.01 569.41 L641.59 569.69 L643.17 569.97 L644.76 570.24 L646.34 570.51 L647.92 570.78 L649.51 571.04 L651.10 571.30 L652.68 571.55 L654.27 571.80 L655.86 572.04 L657.45 572.28 L659.04 572.52 L660.63 572.75 L662.22 572.97 L663.82 573.19 L665.41 573.41 L667.01 573.61 L668.60 573.82 L670.20 574.02 L671.79 574.21 L673.39 574.40 L674.99 574.58 L676.59 574.76 L678.19 574.93 L679.79 575.09 L681.39 575.25 L682.99 575.41 L684.60 575.55 L686.20 575.70 L687.80 575.83 L689.41 575.96 L691.01 576.09 L692.62 576.20 L694.22 576.32 L695.82 576.43 L697.43 576.53 L699.03 576.63 L700.64 576.72 L702.24 576.82 L703.85 576.90 L705.45 576.98 L707.05 577.06 L708.66 577.14 L710.26 577.21 L711.87 577.28 L713.47 577.34 L715.07 577.41 L716.68 577.47 L718.28 577.52 L719.88 577.58 L721.48 577.63 L723.09 577.68 L724.69 577.73 L726.29 577.78 L727.89 577.82 L729.49 577.87 L731.10 577.91 L732.70 577.95 L734.30 577.99 L735.90 578.04 L737.50 578.08 L739.10 578.12 L740.70 578.16 L742.30 578.20 L743.90 578.24 L745.50 578.28 L747.09 578.32 L748.69 578.36 L750.29 578.40 L751.89 578.45 L753.49 578.49 L755.08 578.54 L756.68 578.58 L758.28 578.63 L759.88 578.68 L761.47 578.73 L763.07 578.79 L764.67 578.84 L766.26 578.90 L767.86 578.95 L769.46 579.01 L771.05 579.07 L772.65 579.13 L774.25 579.19 L775.84 579.26 L777.44 579.33 L779.03 579.39 L780.63 579.47 L782.22 579.54 L783.82 579.61 L785.41 579.69 L787.01 579.77 L788.60 579.85 L790.20 579.93 L791.79 580.01 L793.39 580.10 L794.98 580.19 L796.58 580.28 L798.17 580.37 L799.76 580.47 L801.36 580.57 L802.95 580.67 L804.54 580.77 L806.14 580.87 L807.73 580.98 L809.32 581.09 L810.91 581.20 L812.51 581.31 L814.10 581.43 L815.69 581.54 L817.28 581.66 L818.88 581.78 L820.47 581.91 L822.06 582.03 L823.65 582.16 L825.24 582.29 L826.84 582.42 L828.43 582.55 L830.02 582.68 L831.61 582.82 L833.20 582.96 L834.79 583.10 L836.38 583.24 L837.97 583.38 L839.56 583.53 L841.15 583.68 L842.74 583.83 L844.33 583.98 L845.92 584.13 L847.51 584.28 L849.10 584.44 L850.69 584.60 L852.28 584.76 L853.87 584.92 L855.46 585.08 L857.05 585.24 L858.64 585.41 L860.23 585.57 L861.82 585.74 L863.41 585.91 L865.00 586.08 L866.58 586.25 L868.17 586.42 L869.76 586.60 L871.35 586.77 L872.94 586.95 L874.53 587.13 L876.12 587.30 L877.70 587.48 L879.29 587.66 L880.88 587.84 L882.47 588.03 L884.06 588.21 L885.64 588.39 L887.23 588.58 L888.82 588.76 L890.41 588.95 L892.00 589.14 L893.58 589.32 L895.17 589.51 L896.76 589.70 L898.35 589.89 L899.93 590.08 L901.52 590.27 L903.11 590.47 L904.70 590.66 L906.28 590.85 L907.87 591.04 L909.46 591.24 L911.05 591.43 L912.63 591.63 L914.22 591.82 L915.81 592.02 L917.39 592.22 L918.98 592.41 L920.57 592.61 L922.15 592.81 L923.74 593.01 L925.33 593.21 L926.92 593.41 L928.50 593.61 L930.09 593.81 L931.68 594.01 L933.26 594.21 L934.85 594.41 L936.44 594.61 L938.02 594.81 L939.61 595.02 L941.20 595.22 L942.78 595.42 L944.37 595.63 L945.96 595.83 L947.54 596.03 L949.13 596.24 L950.72 596.44 L952.30 596.65 L953.89 596.85 L955.47 597.05 L957.06 597.26 L958.65 597.46 L960.23 597.67 L961.82 597.87 L963.41 598.08 L964.99 598.28 L966.58 598.49 L968.17 598.70 L969.75 598.90 L971.34 599.11 L972.93 599.31 L974.51 599.52 L976.10 599.72 L977.69 599.93 L979.28 600.13 L980.86 600.34 L982.45 600.54 L984.04 600.75 L985.62 600.95 L987.21 601.16 L988.80 601.36 L990.38 601.57 L991.97 601.77 L993.56 601.98 L995.15 602.18 L996.73 602.39 L998.32 602.59 L999.91 602.79 L1001.50 603.00 L1003.08 603.20 L1004.67 603.40 L1006.26 603.60 L1007.85 603.81 L1009.43 604.01 L1011.02 604.21 L1012.61 604.41 L1014.20 604.61 L1015.79 604.81 L1017.37 605.01 L1018.96 605.21 L1020.55 605.41 L1022.14 605.61 L1023.73 605.81 L1025.31 606.00 L1026.90 606.20 L1028.49 606.40 L1030.08 606.59 L1031.67 606.79 L1033.26 606.98 L1034.85 607.18 L1036.44 607.37 L1038.03 607.57 L1039.62 607.76 L1041.20 607.95 L1042.79 608.14 L1044.38 608.33 L1045.97 608.53 L1047.56 608.72 L1049.15 608.90 L1050.74 609.09 L1052.33 609.28 L1053.92 609.47 L1055.51 609.65 L1057.10 609.84 L1058.69 610.02 L1060.29 610.21 L1061.88 610.39 L1063.47 610.57 L1065.06 610.75 L1066.65 610.93 L1068.24 611.11 L1069.83 611.29 L1071.42 611.47 L1073.01 611.65 L1074.61 611.83 L1076.20 612.00 L1077.79 612.18 L1079.38 612.35 L1080.97 612.52 L1082.57 612.70 L1084.16 612.87 L1085.75 613.04 L1087.34 613.21 L1088.93 613.38 L1090.53 613.55 L1092.12 613.71 L1093.71 613.88 L1095.30 614.05 L1096.90 614.21 L1098.49 614.37 L1100.08 614.54 L1101.68 614.70 L1103.27 614.86 L1104.86 615.02 L1106.46 615.18 L1108.05 615.34 L1109.64 615.50 L1111.24 615.66 L1112.83 615.81 L1114.43 615.97 L1116.02 616.12 L1117.61 616.27 L1119.21 616.43 L1120.80 616.58 L1122.40 616.73 L1123.99 616.88 L1125.58 617.03 L1127.18 617.18 L1128.77 617.32 L1130.37 617.47 L1131.96 617.62 L1133.56 617.76 L1135.15 617.90 L1136.75 618.05 L1138.34 618.19 L1139.94 618.33 L1141.53 618.47 L1143.13 618.61 L1144.73 618.75 L1146.32 618.88 L1147.92 619.02 L1149.51 619.16 L1151.11 619.29 L1152.70 619.42 L1154.30 619.56 L1155.90 619.69 L1157.49 619.82 L1159.09 619.95 L1160.68 620.08 L1162.28 620.20 L1163.88 620.33 L1165.47 620.46 L1167.07 620.58 L1168.67 620.71 L1170.26 620.83 L1171.86 620.95 L1173.46 621.07 L1175.06 621.19 L1176.65 621.31 L1178.25 621.43 L1179.85 621.55 L1181.44 621.66 L1183.04 621.78 L1184.64 621.89 L1186.24 622.01 L1187.83 622.12 L1189.43 622.23 L1191.03 622.34 L1192.63 622.45 L1194.23 622.56 L1195.82 622.66 L1197.42 622.77 L1199.02 622.88 L1200.62 622.98 L1202.22 623.08 L1203.81 623.18 L1205.41 623.29 L1207.01 623.39 L1208.61 623.49 L1210.21 623.58 L1211.81 623.68 L1213.41 623.78 L1215.01 623.87 L1216.60 623.97 L1218.20 624.06 L1219.80 624.15 L1221.40 624.24 L1223.00 624.33 L1224.60 624.42 L1226.20 624.51 L1227.80 624.59 L1229.40 624.68 L1231.00 624.76 L1232.60 624.85 L1234.20 624.93 L1235.80 625.01 L1237.39 625.09 L1238.99 625.17 L1240.59 625.25 L1242.19 625.33 L1243.79 625.40 L1245.39 625.48 L1246.99 625.55 L1248.59 625.63 L1250.19 625.70 L1251.79 625.77 L1253.39 625.84 L1254.99 625.91 L1256.60 625.97 L1258.20 626.04 L1259.80 626.11 L1261.40 626.17 L1263.00 626.23 L1264.60 626.29 L1266.20 626.36 L1267.80 626.42 L1269.40 626.47 L1271.00 626.53 L1272.60 626.59 L1274.20 626.64 L1275.80 626.70 L1277.40 626.75 L1279.00 626.80 L1280.61 626.85 L1282.21 626.90 L1283.81 626.95 L1285.41 627.00 L1287.01 627.05 L1288.61 627.09 L1290.21 627.13 L1291.81 627.18 L1293.41 627.22 L1295.02 627.26 L1296.62 627.30 L1298.22 627.34 L1299.82 627.37 L1301.42 627.41 L1303.02 627.45 L1304.62 627.48 L1306.23 627.51 L1307.83 627.54 L1309.43 627.57 L1311.03 627.60 L1312.63 627.63 L1314.23 627.66 L1315.83 627.68 L1317.44 627.71 L1319.04 627.73 L1320.64 627.75 L1322.24 627.77 L1323.84 627.79 L1325.45 627.81 L1325.47 627.81 L1327.67 627.84 L1327.73 622.80 L1325.53 622.78 L1325.50 622.77 L1323.91 622.75 L1322.31 622.73 L1320.71 622.71 L1319.11 622.69 L1317.51 622.66 L1315.92 622.63 L1314.32 622.61 L1312.72 622.58 L1311.12 622.55 L1309.53 622.52 L1307.93 622.48 L1306.33 622.45 L1304.73 622.42 L1303.13 622.38 L1301.54 622.34 L1299.94 622.31 L1298.34 622.27 L1296.74 622.23 L1295.15 622.18 L1293.55 622.14 L1291.95 622.10 L1290.35 622.05 L1288.76 622.01 L1287.16 621.96 L1285.56 621.91 L1283.96 621.86 L1282.37 621.81 L1280.77 621.76 L1279.17 621.71 L1277.57 621.65 L1275.98 621.60 L1274.38 621.54 L1272.78 621.49 L1271.18 621.43 L1269.59 621.37 L1267.99 621.31 L1266.39 621.25 L1264.80 621.18 L1263.20 621.12 L1261.60 621.05 L1260.01 620.99 L1258.41 620.92 L1256.81 620.85 L1255.22 620.78 L1253.62 620.71 L1252.02 620.64 L1250.43 620.57 L1248.83 620.50 L1247.23 620.42 L1245.64 620.35 L1244.04 620.27 L1242.44 620.19 L1240.85 620.11 L1239.25 620.03 L1237.65 619.95 L1236.06 619.87 L1234.46 619.79 L1232.87 619.70 L1231.27 619.62 L1229.67 619.53 L1228.08 619.44 L1226.48 619.35 L1224.89 619.26 L1223.29 619.17 L1221.70 619.08 L1220.10 618.99 L1218.50 618.90 L1216.91 618.80 L1215.31 618.71 L1213.72 618.61 L1212.12 618.51 L1210.53 618.41 L1208.93 618.31 L1207.34 618.21 L1205.74 618.11 L1204.15 618.01 L1202.55 617.90 L1200.96 617.80 L1199.36 617.69 L1197.77 617.59 L1196.17 617.48 L1194.58 617.37 L1192.98 617.26 L1191.39 617.15 L1189.79 617.04 L1188.20 616.93 L1186.61 616.81 L1185.01 616.70 L1183.42 616.58 L1181.82 616.46 L1180.23 616.35 L1178.64 616.23 L1177.04 616.11 L1175.45 615.99 L1173.85 615.87 L1172.26 615.74 L1170.67 615.62 L1169.07 615.50 L1167.48 615.37 L1165.89 615.24 L1164.29 615.12 L1162.70 614.99 L1161.11 614.86 L1159.51 614.73 L1157.92 614.60 L1156.33 614.47 L1154.73 614.33 L1153.14 614.20 L1151.55 614.07 L1149.96 613.93 L1148.36 613.79 L1146.77 613.66 L1145.18 613.52 L1143.59 613.38 L1141.99 613.24 L1140.40 613.10 L1138.81 612.95 L1137.22 612.81 L1135.63 612.67 L1134.03 612.52 L1132.44 612.38 L1130.85 612.23 L1129.26 612.08 L1127.67 611.93 L1126.08 611.78 L1124.48 611.63 L1122.89 611.48 L1121.30 611.33 L1119.71 611.18 L1118.12 611.02 L1116.53 610.87 L1114.94 610.71 L1113.35 610.56 L1111.76 610.40 L1110.17 610.24 L1108.58 610.08 L1106.98 609.92 L1105.39 609.76 L1103.80 609.60 L1102.21 609.44 L1100.62 609.27 L1099.03 609.11 L1097.44 608.94 L1095.85 608.78 L1094.26 608.61 L1092.67 608.44 L1091.08 608.27 L1089.49 608.11 L1087.91 607.94 L1086.32 607.76 L1084.73 607.59 L1083.14 607.42 L1081.55 607.25 L1079.96 607.07 L1078.37 606.90 L1076.78 606.72 L1075.19 606.54 L1073.60 606.37 L1072.02 606.19 L1070.43 606.01 L1068.84 605.83 L1067.25 605.65 L1065.66 605.47 L1064.07 605.28 L1062.49 605.10 L1060.90 604.92 L1059.31 604.73 L1057.72 604.55 L1056.13 604.36 L1054.55 604.17 L1052.96 603.98 L1051.37 603.80 L1049.78 603.61 L1048.20 603.42 L1046.61 603.23 L1045.02 603.03 L1043.43 602.84 L1041.85 602.65 L1040.26 602.46 L1038.67 602.26 L1037.09 602.07 L1035.50 601.87 L1033.91 601.68 L1032.32 601.48 L1030.74 601.29 L1029.15 601.09 L1027.56 600.89 L1025.98 600.69 L1024.39 600.50 L1022.80 600.30 L1021.22 600.10 L1019.63 599.90 L1018.04 599.70 L1016.46 599.50 L1014.87 599.30 L1013.28 599.10 L1011.70 598.90 L1010.11 598.69 L1008.52 598.49 L1006.94 598.29 L1005.35 598.09 L1003.76 597.88 L1002.18 597.68 L1000.59 597.48 L999.00 597.27 L997.42 597.07 L995.83 596.86 L994.24 596.66 L992.66 596.46 L991.07 596.25 L989.48 596.05 L987.90 595.84 L986.31 595.64 L984.72 595.43 L983.14 595.23 L981.55 595.02 L979.96 594.82 L978.38 594.61 L976.79 594.40 L975.20 594.20 L973.62 593.99 L972.03 593.79 L970.44 593.58 L968.86 593.38 L967.27 593.17 L965.68 592.97 L964.10 592.76 L962.51 592.56 L960.92 592.35 L959.33 592.15 L957.75 591.94 L956.16 591.74 L954.57 591.53 L952.99 591.33 L951.40 591.12 L949.81 590.92 L948.22 590.72 L946.64 590.51 L945.05 590.31 L943.46 590.11 L941.87 589.90 L940.29 589.70 L938.70 589.50 L937.11 589.30 L935.52 589.10 L933.93 588.90 L932.35 588.70 L930.76 588.50 L929.17 588.30 L927.58 588.10 L925.99 587.90 L924.41 587.70 L922.82 587.50 L921.23 587.30 L919.64 587.11 L918.05 586.91 L916.46 586.71 L914.87 586.52 L913.28 586.32 L911.70 586.13 L910.11 585.93 L908.52 585.74 L906.93 585.55 L905.34 585.36 L903.75 585.16 L902.16 584.97 L900.57 584.78 L898.98 584.59 L897.39 584.40 L895.80 584.22 L894.21 584.03 L892.62 583.84 L891.03 583.66 L889.44 583.47 L887.85 583.29 L886.26 583.10 L884.66 582.92 L883.07 582.74 L881.48 582.56 L879.89 582.38 L878.30 582.20 L876.71 582.02 L875.12 581.84 L873.52 581.67 L871.93 581.49 L870.34 581.32 L868.75 581.15 L867.15 580.97 L865.56 580.81 L863.97 580.64 L862.37 580.47 L860.78 580.30 L859.18 580.14 L857.59 579.98 L856.00 579.82 L854.40 579.66 L852.81 579.50 L851.21 579.34 L849.62 579.19 L848.02 579.03 L846.43 578.88 L844.83 578.73 L843.23 578.58 L841.64 578.44 L840.04 578.29 L838.44 578.15 L836.85 578.01 L835.25 577.87 L833.65 577.73 L832.06 577.59 L830.46 577.46 L828.86 577.33 L827.26 577.20 L825.66 577.07 L824.07 576.95 L822.47 576.82 L820.87 576.70 L819.27 576.58 L817.67 576.46 L816.07 576.35 L814.47 576.23 L812.87 576.12 L811.27 576.01 L809.67 575.90 L808.07 575.80 L806.47 575.70 L804.87 575.59 L803.27 575.50 L801.67 575.40 L800.07 575.30 L798.47 575.21 L796.87 575.12 L795.27 575.03 L793.67 574.95 L792.06 574.87 L790.46 574.78 L788.86 574.71 L787.26 574.63 L785.66 574.55 L784.06 574.48 L782.45 574.41 L780.85 574.34 L779.25 574.27 L777.65 574.21 L776.05 574.15 L774.45 574.08 L772.84 574.02 L771.24 573.96 L769.64 573.91 L768.04 573.85 L766.44 573.80 L764.84 573.74 L763.24 573.69 L761.63 573.64 L760.03 573.59 L758.43 573.55 L756.83 573.50 L755.23 573.45 L753.63 573.41 L752.03 573.37 L750.43 573.33 L748.83 573.28 L747.22 573.24 L745.62 573.20 L744.02 573.16 L742.42 573.12 L740.83 573.08 L739.23 573.04 L737.63 573.00 L736.03 572.96 L734.43 572.92 L732.83 572.88 L731.23 572.83 L729.64 572.79 L728.04 572.74 L726.44 572.69 L724.85 572.64 L723.25 572.59 L721.65 572.54 L720.06 572.48 L718.46 572.42 L716.87 572.36 L715.28 572.29 L713.68 572.23 L712.09 572.16 L710.50 572.08 L708.90 572.00 L707.31 571.92 L705.72 571.84 L704.13 571.75 L702.54 571.66 L700.95 571.56 L699.36 571.46 L697.77 571.35 L696.18 571.24 L694.59 571.12 L693.01 571.00 L691.42 570.87 L689.84 570.74 L688.25 570.60 L686.67 570.46 L685.09 570.31 L683.50 570.15 L681.92 569.99 L680.34 569.83 L678.76 569.65 L677.18 569.47 L675.60 569.29 L674.02 569.10 L672.44 568.91 L670.86 568.71 L669.29 568.50 L667.71 568.29 L666.13 568.08 L664.56 567.86 L662.98 567.63 L661.41 567.40 L659.83 567.17 L658.26 566.93 L656.69 566.68 L655.11 566.43 L653.54 566.18 L651.97 565.92 L650.40 565.66 L648.83 565.40 L647.26 565.13 L645.69 564.85 L644.12 564.57 L642.56 564.29 L640.99 564.01 L639.42 563.72 L637.86 563.42 L636.29 563.13 L634.73 562.83 L633.16 562.52 L631.60 562.21 L630.04 561.90 L628.47 561.59 L626.91 561.27 L625.35 560.95 L623.79 560.63 L622.23 560.30 L620.67 559.97 L619.11 559.64 L617.55 559.31 L615.99 558.97 L614.43 558.63 L612.87 558.29 L611.32 557.94 L609.76 557.59 L608.20 557.24 L606.65 556.89 L605.09 556.54 L603.54 556.18 L601.98 555.82 L600.43 555.46 L598.87 555.10 L597.32 554.73 L595.76 554.37 L594.21 554.00 L592.65 553.63 L591.10 553.26 L589.54 552.89 L587.99 552.52 L586.43 552.15 L584.88 551.77 L583.32 551.40 L581.77 551.03 L580.21 550.65 L578.66 550.28 L577.10 549.91 L575.54 549.53 L573.99 549.16 L572.43 548.79 L570.87 548.42 L569.31 548.05 L567.75 547.68 L566.19 547.31 L564.63 546.95 L563.07 546.59 L561.51 546.22 L559.94 545.86 L558.38 545.51 L556.81 545.15 L555.25 544.80 L553.68 544.45 L552.12 544.10 L550.55 543.76 L548.98 543.42 L547.41 543.08 L545.84 542.74 L544.27 542.41 L542.70 542.07 L541.13 541.75 L539.56 541.42 L537.99 541.10 L536.41 540.78 L534.84 540.46 L533.26 540.15 L531.69 539.84 L530.11 539.53 L528.54 539.22 L526.96 538.92 L525.38 538.62 L523.81 538.32 L522.23 538.03 L520.65 537.74 L519.07 537.45 L517.49 537.17 L515.91 536.88 L514.33 536.61 L512.75 536.33 L511.16 536.06 L509.58 535.79 L508.00 535.52 L506.41 535.26 L504.83 535.00 L503.24 534.74 L501.66 534.49 L500.07 534.24 L498.49 533.99 L496.90 533.75 L495.31 533.51 L493.72 533.27 L492.13 533.04 L490.54 532.81 L488.95 532.58 L487.36 532.35 L485.77 532.13 L484.18 531.92 L482.59 531.70 L481.00 531.49 L479.41 531.29 L477.81 531.08 L476.22 530.88 L474.63 530.68 L473.03 530.49 L471.44 530.30 L469.85 530.11 L468.25 529.92 L466.66 529.74 L465.07 529.56 L463.47 529.38 L461.88 529.20 L460.28 529.03 L458.69 528.86 L457.09 528.69 L455.50 528.52 L453.90 528.35 L452.31 528.19 L450.71 528.03 L449.12 527.87 L447.52 527.71 L445.93 527.56 L444.33 527.40 L442.74 527.25 L441.14 527.10 L439.55 526.95 L437.95 526.80 L436.36 526.65 L434.76 526.50 L433.17 526.36 L431.57 526.21 L429.98 526.07 L428.38 525.92 L426.79 525.78 L425.19 525.64 L423.60 525.50 L422.00 525.35 L420.41 525.21 L418.81 525.07 L417.22 524.93 L415.63 524.79 L414.03 524.65 L412.44 524.51 L410.84 524.37 L409.25 524.23 L407.66 524.09 L406.06 523.95 L404.47 523.80 L402.88 523.66 L401.29 523.52 L399.69 523.37 L398.10 523.23 L396.51 523.08 L394.92 522.94 L393.33 522.79 L391.74 522.64 L390.14 522.49 L388.55 522.34 L386.96 522.19 L385.37 522.04 L383.78 521.88 L382.19 521.72 L380.60 521.57 L379.01 521.41 L377.43 521.24 L375.84 521.08 L374.25 520.92 L372.66 520.75 L371.07 520.58 L369.49 520.41 L367.90 520.23 L366.31 520.06 L364.73 519.88 L363.14 519.69 L361.56 519.51 L359.97 519.32 L358.39 519.13 L356.81 518.94 L355.22 518.75 L353.64 518.55 L352.06 518.35 L350.48 518.14 L348.90 517.94 L347.32 517.73 L345.74 517.51 L344.16 517.30 L342.58 517.07 L341.00 516.85 L339.42 516.62 L337.85 516.39 L336.27 516.16 L334.70 515.92 L333.12 515.67 L331.55 515.43 L329.98 515.18 L328.40 514.92 L326.83 514.66 L325.26 514.40 L323.69 514.13 L322.12 513.86 L320.56 513.58 L318.99 513.30 L317.42 513.02 L315.86 512.72 L314.30 512.43 L312.73 512.13 L311.17 511.83 L309.61 511.52 L308.05 511.20 L306.49 510.88 L304.94 510.56 L303.38 510.23 L301.83 509.90 L300.27 509.56 L298.72 509.21 L297.17 508.86 L295.62 508.51 L294.07 508.14 L292.53 507.78 L290.98 507.41 L289.44 507.03 L287.90 506.65 L286.36 506.26 L284.82 505.86 L283.28 505.46 L281.74 505.05 L280.21 504.64 L278.68 504.22 L277.15 503.80 L275.63 503.36 L274.10 502.92 L272.58 502.48 L271.07 502.02 L269.55 501.56 L268.04 501.09 L266.53 500.61 L265.02 500.13 L263.51 499.64 L262.01 499.13 L260.52 498.63 L259.02 498.11 L257.53 497.58 L256.04 497.05 L254.56 496.50 L253.08 495.95 L251.60 495.39 L250.13 494.82 L248.66 494.24 L247.19 493.65 L245.73 493.05 L244.27 492.45 L242.82 491.83 L241.37 491.20 L239.93 490.57 L238.49 489.92 L237.05 489.27 L235.62 488.61 L234.20 487.93 L232.77 487.25 L231.36 486.56 L229.95 485.85 L228.54 485.14 L227.14 484.42 L225.75 483.69 L224.36 482.95 L222.97 482.20 L221.59 481.43 L220.22 480.66 L218.85 479.88 L217.48 479.10 L216.13 478.30 L214.77 477.49 L213.43 476.67 L212.09 475.84 L210.75 475.01 L209.42 474.16 L208.10 473.31 L206.78 472.45 L205.46 471.58 L204.16 470.70 L202.86 469.81 L201.56 468.91 L200.27 468.00 L198.99 467.09 L197.71 466.17 L196.44 465.24 L195.17 464.30 L193.91 463.35 L192.66 462.40 L191.41 461.43 L190.16 460.46 L188.93 459.49 L187.70 458.50 L186.47 457.51 L185.25 456.51 L184.04 455.50 L182.83 454.48 L181.63 453.46 L180.43 452.43 L179.24 451.39 L178.06 450.35 L176.88 449.30 L175.71 448.24 L174.54 447.18 L173.38 446.11 L172.23 445.04 L171.08 443.95 L169.93 442.86 L168.79 441.77 L167.66 440.67 L166.53 439.56 L165.41 438.45 L164.30 437.33 L163.19 436.21 L162.08 435.08 L160.98 433.94 L159.89 432.80 L158.80 431.65 L157.72 430.50 L156.64 429.35 L155.57 428.18 L154.50 427.02 L153.44 425.84 L152.38 424.67 L151.33 423.49 L150.28 422.30 L149.24 421.11 L148.21 419.91 L147.18 418.71 L146.15 417.50 L145.13 416.30 L144.11 415.08 L143.10 413.86 L142.10 412.64 L141.10 411.41 L140.10 410.18 L139.11 408.95 L138.12 407.71 L137.14 406.46 L136.17 405.22 L135.19 403.97 L134.23 402.71 L133.26 401.45 L132.31 400.19 L131.35 398.93 L130.40 397.66 L129.46 396.38 L128.52 395.11 L127.58 393.83 L126.65 392.54 L125.72 391.26 L124.80 389.97 L123.88 388.68 L122.97 387.38 L122.06 386.08 L121.15 384.78 L120.25 383.47 L119.35 382.17 L118.46 380.85 L117.57 379.54 L116.68 378.22 L115.80 376.90 L114.93 375.58 L114.05 374.26 L113.18 372.93 L112.32 371.60 L111.45 370.27 L110.60 368.93 L109.74 367.59 L108.89 366.25 L108.04 364.91 L107.20 363.56 L106.36 362.21 L105.53 360.86 L104.69 359.51 L103.86 358.16 L103.04 356.80 L102.22 355.44 L101.40 354.08 L100.58 352.71 L99.77 351.35 L98.97 349.98 L98.16 348.61 L97.36 347.24 L96.56 345.86 L95.77 344.49 L94.98 343.11 L94.19 341.73 L93.40 340.35 L92.62 338.96 L91.84 337.58 L91.07 336.19 L90.29 334.80 L89.52 333.41 L88.76 332.01 L87.99 330.62 L87.23 329.22 L86.48 327.82 L85.72 326.42 L84.97 325.02 L84.22 323.62 L83.48 322.21 L82.73 320.81 L81.99 319.40 L81.26 317.99 L80.52 316.58 L79.79 315.16 L79.06 313.75 L78.34 312.33 L77.61 310.92 L76.89 309.50 L76.18 308.08 L75.46 306.66 L74.75 305.23 L74.04 303.81 L73.33 302.38 L72.63 300.96 L71.92 299.53 L71.22 298.10 L70.53 296.67 L69.83 295.24 L69.14 293.80 L68.45 292.37 L67.76 290.93 L67.08 289.49 L66.40 288.06 L65.71 286.62 L65.04 285.17 L64.36 283.73 L63.69 282.29 L63.02 280.85 L62.35 279.40 L61.68 277.95 L61.02 276.51 L60.36 275.06 L59.70 273.61 L59.04 272.16 L58.39 270.71 L57.73 269.25 L57.08 267.80 L56.43 266.34 L55.79 264.89 L55.14 263.43 L54.50 261.97 L53.86 260.51 L53.22 259.05 L52.59 257.59 L51.95 256.13 L51.32 254.67 L50.69 253.21 L50.06 251.74 L49.44 250.28 L48.81 248.81 L48.19 247.34 L47.57 245.87 L46.95 244.41 L46.34 242.94 Z" fill="#00cccc"/><circle cx="43.60" cy="244.08" r="2.97" fill="#00cccc"/>
<path d="M40.67 664.27 L41.29 665.74 L41.92 667.22 L42.54 668.69 L43.17 670.16 L43.81 671.63 L44.44 673.10 L45.08 674.57 L45.72 676.04 L46.37 677.51 L47.02 678.97 L47.66 680.44 L48.32 681.90 L48.97 683.36 L49.63 684.82 L50.29 686.28 L50.95 687.74 L51.62 689.20 L52.29 690.66 L52.96 692.11 L53.63 693.57 L54.31 695.02 L54.99 696.47 L55.68 697.92 L56.36 699.37 L57.05 700.81 L57.74 702.26 L58.44 703.70 L59.14 705.15 L59.84 706.59 L60.55 708.03 L61.26 709.46 L61.97 710.90 L62.68 712.34 L63.40 713.77 L64.12 715.20 L64.85 716.63 L65.58 718.06 L66.31 719.49 L67.05 720.91 L67.79 722.33 L68.53 723.75 L69.27 725.17 L70.03 726.59 L70.78 728.01 L71.54 729.42 L72.30 730.83 L73.06 732.24 L73.83 733.65 L74.60 735.06 L75.38 736.46 L76.16 737.86 L76.95 739.26 L77.74 740.66 L78.53 742.06 L79.33 743.45 L80.13 744.84 L80.93 746.23 L81.74 747.61 L82.55 749.00 L83.37 750.38 L84.20 751.76 L85.02 753.13 L85.85 754.51 L86.69 755.88 L87.53 757.25 L88.38 758.61 L89.23 759.97 L90.08 761.33 L90.94 762.69 L91.80 764.05 L92.67 765.40 L93.55 766.75 L94.42 768.09 L95.31 769.43 L96.20 770.77 L97.09 772.11 L97.99 773.44 L98.89 774.77 L99.80 776.09 L100.72 777.42 L101.64 778.73 L102.56 780.05 L103.50 781.36 L104.43 782.67 L105.37 783.97 L106.32 785.27 L107.28 786.57 L108.24 787.86 L109.20 789.15 L110.17 790.43 L111.15 791.71 L112.13 792.98 L113.12 794.25 L114.12 795.52 L115.12 796.78 L116.13 798.04 L117.14 799.29 L118.16 800.53 L119.19 801.77 L120.22 803.01 L121.26 804.24 L122.30 805.47 L123.36 806.69 L124.42 807.90 L125.48 809.11 L126.55 810.32 L127.63 811.51 L128.72 812.71 L129.81 813.89 L130.91 815.07 L132.02 816.24 L133.13 817.41 L134.25 818.57 L135.38 819.73 L136.51 820.88 L137.65 822.02 L138.80 823.15 L139.95 824.28 L141.11 825.40 L142.28 826.52 L143.46 827.62 L144.64 828.72 L145.83 829.82 L147.02 830.90 L148.23 831.98 L149.44 833.05 L150.65 834.11 L151.87 835.17 L153.10 836.22 L154.34 837.25 L155.58 838.29 L156.83 839.31 L158.09 840.33 L159.35 841.34 L160.62 842.34 L161.90 843.33 L163.18 844.31 L164.47 845.29 L165.76 846.25 L167.06 847.21 L168.37 848.16 L169.68 849.11 L171.00 850.04 L172.32 850.97 L173.65 851.89 L174.98 852.80 L176.32 853.70 L177.67 854.59 L179.02 855.48 L180.38 856.35 L181.74 857.22 L183.11 858.08 L184.48 858.94 L185.85 859.78 L187.23 860.62 L188.62 861.45 L190.01 862.27 L191.40 863.08 L192.80 863.89 L194.20 864.69 L195.60 865.48 L197.01 866.27 L198.43 867.04 L199.84 867.81 L201.26 868.58 L202.69 869.33 L204.12 870.08 L205.55 870.83 L206.98 871.56 L208.42 872.29 L209.87 873.01 L211.31 873.72 L212.76 874.43 L214.22 875.13 L215.67 875.82 L217.13 876.51 L218.60 877.18 L220.06 877.86 L221.53 878.52 L223.00 879.18 L224.48 879.83 L225.96 880.47 L227.44 881.11 L228.92 881.74 L230.41 882.36 L231.90 882.97 L233.39 883.58 L234.89 884.19 L236.38 884.78 L237.88 885.37 L239.38 885.95 L240.89 886.53 L242.40 887.10 L243.91 887.66 L245.42 888.22 L246.93 888.77 L248.45 889.32 L249.96 889.86 L251.48 890.39 L253.00 890.91 L254.53 891.44 L256.05 891.95 L257.58 892.46 L259.11 892.96 L260.64 893.46 L262.17 893.96 L263.71 894.44 L265.24 894.92 L266.78 895.40 L268.31 895.87 L269.85 896.34 L271.39 896.80 L272.94 897.26 L274.48 897.71 L276.02 898.16 L277.57 898.60 L279.12 899.04 L280.66 899.47 L282.21 899.90 L283.76 900.33 L285.31 900.75 L286.86 901.17 L288.42 901.58 L289.97 901.99 L291.52 902.40 L293.08 902.80 L294.63 903.20 L296.19 903.60 L297.74 903.99 L299.30 904.38 L300.86 904.77 L302.42 905.16 L303.97 905.54 L305.53 905.92 L307.09 906.29 L308.65 906.67 L310.21 907.04 L311.77 907.41 L313.33 907.78 L314.89 908.15 L316.45 908.51 L318.01 908.87 L319.58 909.24 L321.14 909.60 L322.70 909.95 L324.26 910.31 L325.82 910.67 L327.38 911.02 L328.94 911.38 L330.51 911.73 L332.07 912.09 L333.63 912.44 L335.19 912.79 L336.75 913.15 L338.31 913.50 L339.87 913.85 L341.43 914.20 L342.99 914.56 L344.55 914.91 L346.11 915.27 L347.67 915.62 L349.23 915.98 L350.79 916.33 L352.34 916.69 L353.90 917.05 L355.46 917.41 L357.02 917.77 L358.58 918.12 L360.14 918.48 L361.70 918.84 L363.27 919.19 L364.83 919.55 L366.39 919.90 L367.96 920.25 L369.53 920.59 L371.09 920.94 L372.66 921.28 L374.23 921.61 L375.80 921.95 L377.38 922.28 L378.95 922.60 L380.53 922.92 L382.10 923.24 L383.68 923.55 L385.26 923.85 L386.85 924.15 L388.43 924.44 L390.02 924.72 L391.60 925.00 L393.19 925.27 L394.79 925.53 L396.38 925.78 L397.97 926.03 L399.57 926.26 L401.16 926.49 L402.76 926.72 L404.36 926.93 L405.96 927.14 L407.56 927.34 L409.16 927.53 L410.76 927.72 L412.36 927.90 L413.96 928.07 L415.56 928.23 L417.16 928.39 L418.77 928.55 L420.37 928.69 L421.97 928.83 L423.58 928.97 L425.18 929.09 L426.79 929.22 L428.39 929.33 L430.00 929.44 L431.60 929.55 L433.21 929.65 L434.81 929.74 L436.42 929.83 L438.02 929.92 L439.63 930.00 L441.23 930.07 L442.84 930.15 L444.45 930.21 L446.05 930.27 L447.66 930.33 L449.26 930.39 L450.87 930.44 L452.47 930.48 L454.08 930.53 L455.68 930.57 L457.29 930.60 L458.89 930.64 L460.50 930.67 L462.10 930.69 L463.71 930.72 L465.31 930.74 L466.91 930.76 L468.52 930.77 L470.12 930.79 L471.73 930.80 L473.33 930.81 L474.93 930.81 L476.54 930.82 L478.14 930.82 L479.75 930.82 L481.35 930.82 L482.95 930.82 L484.55 930.81 L486.16 930.81 L487.76 930.80 L489.36 930.79 L490.97 930.78 L492.57 930.77 L494.17 930.76 L495.77 930.74 L497.37 930.73 L498.98 930.71 L500.58 930.69 L502.18 930.67 L503.78 930.65 L505.38 930.63 L506.98 930.60 L508.58 930.58 L510.18 930.55 L511.79 930.53 L513.39 930.50 L514.99 930.47 L516.59 930.45 L518.19 930.42 L519.79 930.39 L521.39 930.36 L522.99 930.33 L524.59 930.31 L526.19 930.28 L527.79 930.25 L529.39 930.22 L530.99 930.19 L532.58 930.16 L534.18 930.14 L535.78 930.11 L537.38 930.08 L538.98 930.05 L540.58 930.03 L542.18 930.00 L543.78 929.98 L545.37 929.96 L546.97 929.94 L548.57 929.91 L550.17 929.89 L551.77 929.87 L553.36 929.86 L554.96 929.84 L556.56 929.83 L558.16 929.81 L559.75 929.80 L561.35 929.79 L562.95 929.78 L564.54 929.78 L566.14 929.77 L567.74 929.77 L569.33 929.77 L570.93 929.78 L572.53 929.79 L574.12 929.80 L575.72 929.81 L577.32 929.82 L578.91 929.84 L580.51 929.86 L582.10 929.88 L583.70 929.91 L585.30 929.94 L586.89 929.96 L588.49 929.99 L590.09 930.03 L591.68 930.06 L593.28 930.10 L594.88 930.14 L596.47 930.18 L598.07 930.22 L599.67 930.26 L601.26 930.31 L602.86 930.36 L604.46 930.41 L606.05 930.46 L607.65 930.51 L609.25 930.56 L610.84 930.62 L612.44 930.67 L614.04 930.73 L615.63 930.79 L617.23 930.85 L618.83 930.91 L620.42 930.97 L622.02 931.03 L623.62 931.10 L625.22 931.16 L626.81 931.23 L628.41 931.29 L630.01 931.36 L631.61 931.43 L633.20 931.50 L634.80 931.57 L636.40 931.64 L638.00 931.71 L639.59 931.78 L641.19 931.85 L642.79 931.92 L644.39 931.99 L645.98 932.06 L647.58 932.14 L649.18 932.21 L650.78 932.28 L652.38 932.35 L653.98 932.43 L655.57 932.50 L657.17 932.57 L658.77 932.64 L660.37 932.72 L661.97 932.79 L663.57 932.86 L665.17 932.93 L666.76 933.00 L668.36 933.07 L669.96 933.14 L671.56 933.21 L673.16 933.28 L674.76 933.35 L676.36 933.42 L677.96 933.49 L679.56 933.55 L681.16 933.62 L682.76 933.68 L684.36 933.74 L685.96 933.81 L687.56 933.87 L689.16 933.93 L690.76 933.99 L692.36 934.05 L693.96 934.10 L695.57 934.16 L697.17 934.21 L698.77 934.27 L700.37 934.32 L701.97 934.37 L703.57 934.42 L705.17 934.46 L706.78 934.51 L708.38 934.55 L709.98 934.59 L711.58 934.63 L713.18 934.67 L714.79 934.71 L716.39 934.75 L717.99 934.78 L719.59 934.81 L721.19 934.85 L722.79 934.88 L724.40 934.91 L726.00 934.94 L727.60 934.96 L729.20 934.99 L730.80 935.02 L732.40 935.04 L734.00 935.07 L735.60 935.09 L737.21 935.11 L738.81 935.14 L740.41 935.16 L742.01 935.18 L743.61 935.20 L745.21 935.22 L746.81 935.24 L748.41 935.26 L750.01 935.28 L751.61 935.30 L753.21 935.32 L754.81 935.33 L756.41 935.35 L758.01 935.37 L759.61 935.39 L761.21 935.41 L762.81 935.43 L764.41 935.45 L766.01 935.47 L767.61 935.48 L769.21 935.50 L770.81 935.52 L772.41 935.54 L774.01 935.57 L775.61 935.59 L777.20 935.61 L778.80 935.63 L780.40 935.66 L782.00 935.68 L783.60 935.70 L785.20 935.73 L786.80 935.76 L788.39 935.78 L789.99 935.81 L791.59 935.84 L793.19 935.87 L794.79 935.90 L796.39 935.94 L797.98 935.97 L799.58 936.01 L801.18 936.04 L802.78 936.08 L804.37 936.12 L805.97 936.16 L807.57 936.20 L809.16 936.25 L810.76 936.29 L812.36 936.34 L813.95 936.39 L815.55 936.44 L817.15 936.49 L818.74 936.55 L820.34 936.60 L821.93 936.66 L823.53 936.72 L825.13 936.78 L826.72 936.85 L828.32 936.92 L829.91 936.98 L831.51 937.06 L833.10 937.13 L834.70 937.21 L836.29 937.28 L837.88 937.36 L839.48 937.45 L841.07 937.53 L842.66 937.62 L844.26 937.71 L845.85 937.81 L847.44 937.91 L849.04 938.01 L850.63 938.11 L852.22 938.21 L853.81 938.32 L855.40 938.43 L856.99 938.55 L858.58 938.66 L860.17 938.79 L861.76 938.91 L863.35 939.04 L864.94 939.17 L866.53 939.30 L868.12 939.44 L869.71 939.58 L871.30 939.72 L872.89 939.87 L874.47 940.02 L876.06 940.17 L877.65 940.33 L879.24 940.48 L880.82 940.65 L882.41 940.81 L884.00 940.98 L885.58 941.15 L887.17 941.32 L888.76 941.49 L890.34 941.67 L891.93 941.85 L893.51 942.03 L895.10 942.22 L896.68 942.41 L898.27 942.59 L899.85 942.79 L901.44 942.98 L903.02 943.18 L904.61 943.38 L906.19 943.58 L907.77 943.78 L909.36 943.98 L910.94 944.19 L912.52 944.40 L914.11 944.61 L915.69 944.82 L917.27 945.04 L918.86 945.25 L920.44 945.47 L922.02 945.69 L923.60 945.91 L925.18 946.13 L926.77 946.36 L928.35 946.58 L929.93 946.81 L931.51 947.04 L933.09 947.27 L934.67 947.50 L936.25 947.73 L937.83 947.96 L939.42 948.20 L941.00 948.43 L942.58 948.67 L944.16 948.91 L945.74 949.14 L947.32 949.38 L948.90 949.62 L950.48 949.87 L952.06 950.11 L953.64 950.35 L955.22 950.59 L956.80 950.84 L958.38 951.08 L959.96 951.33 L961.54 951.57 L963.12 951.82 L964.70 952.07 L966.28 952.31 L967.86 952.56 L969.44 952.81 L971.02 953.06 L972.60 953.30 L974.18 953.55 L975.76 953.80 L977.34 954.05 L978.92 954.30 L980.51 954.54 L982.09 954.79 L983.67 955.04 L985.25 955.29 L986.83 955.54 L988.41 955.78 L989.99 956.03 L991.57 956.28 L993.15 956.53 L994.74 956.77 L996.32 957.02 L997.90 957.26 L999.48 957.51 L1001.06 957.75 L1002.65 957.99 L1004.23 958.24 L1005.81 958.48 L1007.39 958.72 L1008.98 958.96 L1010.56 959.20 L1012.14 959.44 L1013.73 959.68 L1015.31 959.91 L1016.90 960.15 L1018.48 960.38 L1020.07 960.62 L1021.65 960.85 L1023.24 961.08 L1024.82 961.31 L1026.41 961.54 L1027.99 961.76 L1029.58 961.99 L1031.17 962.21 L1032.75 962.44 L1034.34 962.66 L1035.93 962.88 L1037.52 963.09 L1039.11 963.31 L1040.69 963.52 L1042.28 963.74 L1043.87 963.95 L1045.46 964.15 L1047.05 964.36 L1048.64 964.57 L1050.23 964.77 L1051.82 964.97 L1053.41 965.17 L1055.00 965.36 L1056.60 965.56 L1058.19 965.75 L1059.78 965.94 L1061.37 966.13 L1062.97 966.31 L1064.56 966.50 L1066.15 966.68 L1067.74 966.86 L1069.34 967.03 L1070.93 967.21 L1072.53 967.38 L1074.12 967.55 L1075.71 967.72 L1077.31 967.89 L1078.90 968.05 L1080.50 968.22 L1082.09 968.38 L1083.69 968.54 L1085.28 968.69 L1086.88 968.85 L1088.48 969.00 L1090.07 969.15 L1091.67 969.30 L1093.26 969.45 L1094.86 969.60 L1096.46 969.74 L1098.05 969.88 L1099.65 970.02 L1101.25 970.16 L1102.84 970.30 L1104.44 970.44 L1106.04 970.57 L1107.63 970.70 L1109.23 970.83 L1110.83 970.96 L1112.43 971.09 L1114.03 971.21 L1115.62 971.33 L1117.22 971.46 L1118.82 971.58 L1120.42 971.69 L1122.02 971.81 L1123.61 971.93 L1125.21 972.04 L1126.81 972.15 L1128.41 972.26 L1130.01 972.37 L1131.61 972.48 L1133.21 972.58 L1134.81 972.69 L1136.40 972.79 L1138.00 972.89 L1139.60 972.99 L1141.20 973.09 L1142.80 973.19 L1144.40 973.29 L1146.00 973.38 L1147.60 973.47 L1149.20 973.57 L1150.80 973.66 L1152.40 973.75 L1154.00 973.83 L1155.60 973.92 L1157.20 974.01 L1158.80 974.09 L1160.40 974.17 L1162.00 974.25 L1163.60 974.33 L1165.20 974.41 L1166.80 974.49 L1168.40 974.57 L1170.00 974.64 L1171.60 974.72 L1173.20 974.79 L1174.80 974.86 L1176.40 974.94 L1178.00 975.01 L1179.60 975.08 L1181.20 975.14 L1182.80 975.21 L1184.40 975.28 L1186.00 975.34 L1187.60 975.41 L1189.20 975.47 L1190.80 975.53 L1192.40 975.59 L1194.00 975.65 L1195.60 975.71 L1197.20 975.77 L1198.80 975.83 L1200.40 975.88 L1202.00 975.94 L1203.60 975.99 L1205.20 976.05 L1206.80 976.10 L1208.40 976.15 L1210.00 976.21 L1211.60 976.26 L1213.20 976.31 L1214.80 976.36 L1216.41 976.40 L1218.01 976.45 L1219.61 976.50 L1221.21 976.55 L1222.81 976.59 L1224.41 976.64 L1226.01 976.68 L1227.61 976.73 L1229.21 976.77 L1230.81 976.81 L1232.41 976.86 L1234.01 976.90 L1235.61 976.94 L1237.21 976.98 L1238.81 977.02 L1240.41 977.06 L1242.01 977.10 L1243.61 977.14 L1245.21 977.18 L1246.81 977.21 L1248.41 977.25 L1250.01 977.29 L1251.61 977.33 L1253.21 977.36 L1254.81 977.40 L1256.41 977.43 L1258.01 977.47 L1259.61 977.50 L1261.21 977.54 L1262.81 977.57 L1264.41 977.61 L1266.01 977.64 L1267.61 977.68 L1269.21 977.71 L1270.81 977.74 L1272.41 977.78 L1274.01 977.81 L1275.61 977.84 L1277.21 977.87 L1278.81 977.91 L1280.41 977.94 L1282.01 977.97 L1283.61 978.00 L1285.21 978.04 L1286.81 978.07 L1288.41 978.10 L1290.01 978.13 L1291.61 978.16 L1293.21 978.20 L1294.81 978.23 L1296.41 978.26 L1298.01 978.29 L1299.61 978.32 L1301.21 978.36 L1302.81 978.39 L1304.41 978.42 L1306.01 978.45 L1307.61 978.49 L1309.21 978.52 L1310.81 978.55 L1312.40 978.59 L1314.00 978.62 L1315.60 978.65 L1317.20 978.69 L1318.80 978.72 L1320.40 978.76 L1322.00 978.79 L1323.60 978.83 L1325.20 978.86 L1325.44 978.87 L1327.64 978.92 L1327.76 973.85 L1325.56 973.80 L1325.31 973.80 L1323.71 973.76 L1322.11 973.73 L1320.51 973.69 L1318.91 973.66 L1317.31 973.63 L1315.71 973.59 L1314.11 973.56 L1312.51 973.53 L1310.91 973.49 L1309.31 973.46 L1307.71 973.43 L1306.11 973.39 L1304.51 973.36 L1302.91 973.33 L1301.31 973.30 L1299.71 973.27 L1298.11 973.23 L1296.51 973.20 L1294.91 973.17 L1293.31 973.14 L1291.71 973.10 L1290.11 973.07 L1288.51 973.04 L1286.91 973.01 L1285.31 972.98 L1283.71 972.94 L1282.11 972.91 L1280.52 972.88 L1278.92 972.85 L1277.32 972.81 L1275.72 972.78 L1274.12 972.75 L1272.52 972.71 L1270.92 972.68 L1269.32 972.65 L1267.72 972.61 L1266.12 972.58 L1264.52 972.54 L1262.92 972.51 L1261.32 972.48 L1259.72 972.44 L1258.12 972.40 L1256.53 972.37 L1254.93 972.33 L1253.33 972.30 L1251.73 972.26 L1250.13 972.22 L1248.53 972.18 L1246.93 972.14 L1245.33 972.11 L1243.73 972.07 L1242.14 972.03 L1240.54 971.99 L1238.94 971.95 L1237.34 971.90 L1235.74 971.86 L1234.14 971.82 L1232.54 971.78 L1230.95 971.73 L1229.35 971.69 L1227.75 971.65 L1226.15 971.60 L1224.55 971.56 L1222.95 971.51 L1221.36 971.46 L1219.76 971.41 L1218.16 971.37 L1216.56 971.32 L1214.96 971.27 L1213.36 971.22 L1211.77 971.16 L1210.17 971.11 L1208.57 971.06 L1206.97 971.00 L1205.38 970.95 L1203.78 970.89 L1202.18 970.84 L1200.58 970.78 L1198.99 970.72 L1197.39 970.66 L1195.79 970.60 L1194.19 970.54 L1192.60 970.48 L1191.00 970.42 L1189.40 970.35 L1187.80 970.29 L1186.21 970.22 L1184.61 970.16 L1183.01 970.09 L1181.42 970.02 L1179.82 969.95 L1178.22 969.88 L1176.63 969.81 L1175.03 969.74 L1173.43 969.66 L1171.84 969.59 L1170.24 969.51 L1168.64 969.43 L1167.05 969.35 L1165.45 969.27 L1163.86 969.19 L1162.26 969.11 L1160.66 969.03 L1159.07 968.94 L1157.47 968.86 L1155.88 968.77 L1154.28 968.68 L1152.69 968.59 L1151.09 968.50 L1149.50 968.41 L1147.90 968.31 L1146.31 968.22 L1144.71 968.12 L1143.12 968.02 L1141.52 967.92 L1139.93 967.82 L1138.33 967.72 L1136.74 967.61 L1135.15 967.51 L1133.55 967.40 L1131.96 967.29 L1130.36 967.18 L1128.77 967.07 L1127.18 966.96 L1125.58 966.85 L1123.99 966.73 L1122.40 966.61 L1120.80 966.49 L1119.21 966.37 L1117.62 966.25 L1116.03 966.13 L1114.43 966.00 L1112.84 965.87 L1111.25 965.74 L1109.66 965.61 L1108.07 965.48 L1106.48 965.35 L1104.88 965.21 L1103.29 965.07 L1101.70 964.93 L1100.11 964.79 L1098.52 964.65 L1096.93 964.50 L1095.34 964.36 L1093.75 964.21 L1092.16 964.06 L1090.57 963.91 L1088.98 963.75 L1087.39 963.60 L1085.80 963.44 L1084.22 963.28 L1082.63 963.12 L1081.04 962.95 L1079.45 962.79 L1077.86 962.62 L1076.28 962.45 L1074.69 962.28 L1073.10 962.10 L1071.51 961.93 L1069.93 961.75 L1068.34 961.57 L1066.76 961.39 L1065.17 961.20 L1063.58 961.02 L1062.00 960.83 L1060.41 960.64 L1058.83 960.45 L1057.25 960.25 L1055.66 960.06 L1054.08 959.86 L1052.49 959.66 L1050.91 959.45 L1049.33 959.25 L1047.74 959.04 L1046.16 958.83 L1044.58 958.62 L1043.00 958.41 L1041.41 958.19 L1039.83 957.98 L1038.25 957.76 L1036.67 957.54 L1035.09 957.32 L1033.50 957.10 L1031.92 956.87 L1030.34 956.65 L1028.76 956.42 L1027.18 956.19 L1025.60 955.96 L1024.02 955.73 L1022.44 955.50 L1020.85 955.27 L1019.27 955.03 L1017.69 954.80 L1016.11 954.56 L1014.53 954.32 L1012.95 954.08 L1011.37 953.84 L1009.79 953.60 L1008.21 953.36 L1006.63 953.12 L1005.05 952.88 L1003.47 952.63 L1001.89 952.39 L1000.31 952.15 L998.73 951.90 L997.15 951.65 L995.57 951.41 L993.99 951.16 L992.41 950.91 L990.83 950.67 L989.25 950.42 L987.67 950.17 L986.09 949.92 L984.51 949.68 L982.93 949.43 L981.35 949.18 L979.77 948.93 L978.19 948.68 L976.61 948.43 L975.03 948.19 L973.44 947.94 L971.86 947.69 L970.28 947.44 L968.70 947.20 L967.12 946.95 L965.54 946.70 L963.96 946.46 L962.37 946.21 L960.79 945.96 L959.21 945.72 L957.63 945.48 L956.04 945.23 L954.46 944.99 L952.88 944.75 L951.30 944.51 L949.71 944.27 L948.13 944.03 L946.55 943.79 L944.96 943.55 L943.38 943.32 L941.79 943.08 L940.21 942.85 L938.62 942.61 L937.04 942.38 L935.45 942.15 L933.87 941.92 L932.28 941.69 L930.69 941.47 L929.11 941.24 L927.52 941.02 L925.93 940.80 L924.35 940.57 L922.76 940.36 L921.17 940.14 L919.58 939.92 L917.99 939.71 L916.40 939.50 L914.81 939.29 L913.22 939.08 L911.63 938.87 L910.04 938.67 L908.45 938.47 L906.86 938.26 L905.27 938.07 L903.68 937.87 L902.09 937.68 L900.49 937.49 L898.90 937.30 L897.31 937.11 L895.71 936.93 L894.12 936.74 L892.53 936.56 L890.93 936.39 L889.34 936.21 L887.74 936.04 L886.15 935.87 L884.55 935.71 L882.95 935.54 L881.36 935.38 L879.76 935.23 L878.16 935.07 L876.56 934.92 L874.96 934.77 L873.37 934.63 L871.77 934.49 L870.17 934.35 L868.57 934.21 L866.97 934.08 L865.37 933.95 L863.77 933.82 L862.17 933.70 L860.57 933.58 L858.96 933.47 L857.36 933.35 L855.76 933.24 L854.16 933.14 L852.56 933.03 L850.96 932.93 L849.36 932.83 L847.75 932.74 L846.15 932.65 L844.55 932.56 L842.95 932.47 L841.35 932.39 L839.74 932.30 L838.14 932.22 L836.54 932.15 L834.94 932.07 L833.33 932.00 L831.73 931.93 L830.13 931.86 L828.53 931.80 L826.93 931.73 L825.32 931.67 L823.72 931.61 L822.12 931.56 L820.52 931.50 L818.91 931.45 L817.31 931.40 L815.71 931.35 L814.11 931.30 L812.51 931.25 L810.90 931.21 L809.30 931.17 L807.70 931.13 L806.10 931.09 L804.50 931.05 L802.89 931.01 L801.29 930.98 L799.69 930.94 L798.09 930.91 L796.49 930.88 L794.89 930.85 L793.28 930.82 L791.68 930.79 L790.08 930.76 L788.48 930.73 L786.88 930.71 L785.28 930.68 L783.68 930.66 L782.08 930.64 L780.47 930.61 L778.87 930.59 L777.27 930.57 L775.67 930.55 L774.07 930.53 L772.47 930.51 L770.87 930.49 L769.27 930.47 L767.67 930.45 L766.07 930.43 L764.47 930.41 L762.87 930.39 L761.27 930.37 L759.67 930.36 L758.07 930.34 L756.47 930.32 L754.87 930.30 L753.27 930.28 L751.67 930.26 L750.07 930.24 L748.47 930.22 L746.87 930.20 L745.27 930.18 L743.67 930.16 L742.08 930.14 L740.48 930.12 L738.88 930.09 L737.28 930.07 L735.68 930.05 L734.08 930.02 L732.48 930.00 L730.88 929.97 L729.29 929.94 L727.69 929.91 L726.09 929.88 L724.49 929.85 L722.89 929.82 L721.30 929.79 L719.70 929.75 L718.10 929.72 L716.50 929.68 L714.91 929.64 L713.31 929.60 L711.71 929.56 L710.11 929.52 L708.52 929.47 L706.92 929.42 L705.32 929.38 L703.73 929.33 L702.13 929.28 L700.53 929.22 L698.94 929.17 L697.34 929.11 L695.74 929.06 L694.15 929.00 L692.55 928.94 L690.95 928.88 L689.36 928.82 L687.76 928.76 L686.16 928.70 L684.56 928.63 L682.97 928.57 L681.37 928.50 L679.77 928.43 L678.18 928.37 L676.58 928.30 L674.98 928.23 L673.38 928.16 L671.79 928.09 L670.19 928.02 L668.59 927.95 L666.99 927.88 L665.40 927.80 L663.80 927.73 L662.20 927.66 L660.60 927.59 L659.00 927.52 L657.41 927.44 L655.81 927.37 L654.21 927.30 L652.61 927.22 L651.01 927.15 L649.41 927.08 L647.81 927.01 L646.22 926.94 L644.62 926.86 L643.02 926.79 L641.42 926.72 L639.82 926.65 L638.22 926.58 L636.62 926.51 L635.02 926.44 L633.42 926.38 L631.82 926.31 L630.22 926.24 L628.62 926.18 L627.02 926.11 L625.42 926.05 L623.82 925.98 L622.22 925.92 L620.62 925.86 L619.02 925.80 L617.42 925.74 L615.82 925.68 L614.22 925.63 L612.62 925.57 L611.02 925.52 L609.41 925.47 L607.81 925.42 L606.21 925.37 L604.61 925.32 L603.01 925.27 L601.41 925.23 L599.80 925.19 L598.20 925.14 L596.60 925.11 L595.00 925.07 L593.39 925.03 L591.79 925.00 L590.19 924.97 L588.58 924.94 L586.98 924.91 L585.38 924.89 L583.77 924.86 L582.17 924.84 L580.57 924.83 L578.96 924.81 L577.36 924.80 L575.76 924.79 L574.15 924.78 L572.55 924.77 L570.95 924.77 L569.34 924.77 L567.74 924.77 L566.14 924.77 L564.53 924.77 L562.93 924.77 L561.33 924.78 L559.72 924.78 L558.12 924.79 L556.52 924.80 L554.92 924.81 L553.31 924.83 L551.71 924.84 L550.11 924.86 L548.51 924.88 L546.91 924.90 L545.30 924.92 L543.70 924.94 L542.10 924.96 L540.50 924.98 L538.90 925.01 L537.30 925.03 L535.70 925.06 L534.10 925.09 L532.50 925.11 L530.90 925.14 L529.30 925.17 L527.70 925.20 L526.10 925.22 L524.50 925.25 L522.90 925.28 L521.30 925.31 L519.70 925.34 L518.10 925.37 L516.50 925.40 L514.90 925.42 L513.30 925.45 L511.70 925.48 L510.10 925.51 L508.50 925.53 L506.91 925.56 L505.31 925.58 L503.71 925.61 L502.11 925.63 L500.51 925.65 L498.91 925.67 L497.32 925.69 L495.72 925.71 L494.12 925.73 L492.52 925.75 L490.93 925.76 L489.33 925.77 L487.73 925.78 L486.13 925.79 L484.54 925.80 L482.94 925.81 L481.34 925.81 L479.75 925.82 L478.15 925.81 L476.55 925.81 L474.96 925.80 L473.36 925.79 L471.76 925.78 L470.17 925.76 L468.57 925.74 L466.98 925.72 L465.38 925.70 L463.79 925.67 L462.19 925.64 L460.60 925.61 L459.00 925.57 L457.41 925.53 L455.81 925.49 L454.22 925.45 L452.63 925.40 L451.03 925.34 L449.44 925.29 L447.85 925.23 L446.26 925.16 L444.66 925.09 L443.07 925.02 L441.48 924.94 L439.89 924.86 L438.30 924.77 L436.71 924.67 L435.12 924.58 L433.54 924.47 L431.95 924.37 L430.36 924.25 L428.78 924.13 L427.19 924.01 L425.61 923.88 L424.02 923.74 L422.44 923.60 L420.86 923.45 L419.27 923.29 L417.69 923.13 L416.11 922.97 L414.53 922.79 L412.96 922.61 L411.38 922.42 L409.80 922.23 L408.23 922.03 L406.65 921.82 L405.08 921.60 L403.51 921.38 L401.94 921.15 L400.37 920.91 L398.81 920.66 L397.24 920.41 L395.68 920.15 L394.11 919.88 L392.55 919.61 L390.99 919.32 L389.43 919.03 L387.87 918.74 L386.31 918.43 L384.75 918.12 L383.19 917.81 L381.63 917.49 L380.07 917.17 L378.52 916.84 L376.96 916.51 L375.40 916.17 L373.85 915.83 L372.29 915.49 L370.73 915.14 L369.18 914.80 L367.62 914.44 L366.06 914.09 L364.51 913.74 L362.95 913.38 L361.39 913.02 L359.83 912.67 L358.27 912.31 L356.72 911.95 L355.16 911.59 L353.60 911.23 L352.03 910.88 L350.47 910.52 L348.91 910.17 L347.35 909.81 L345.79 909.46 L344.23 909.10 L342.67 908.75 L341.10 908.40 L339.54 908.05 L337.98 907.69 L336.42 907.34 L334.86 906.99 L333.30 906.63 L331.74 906.28 L330.18 905.92 L328.63 905.57 L327.07 905.21 L325.51 904.86 L323.95 904.50 L322.40 904.14 L320.84 903.78 L319.28 903.41 L317.73 903.05 L316.18 902.68 L314.62 902.32 L313.07 901.95 L311.52 901.58 L309.97 901.20 L308.42 900.83 L306.87 900.45 L305.32 900.07 L303.77 899.68 L302.22 899.30 L300.67 898.91 L299.13 898.52 L297.59 898.12 L296.04 897.73 L294.50 897.32 L292.96 896.92 L291.42 896.51 L289.88 896.10 L288.34 895.68 L286.81 895.26 L285.27 894.84 L283.74 894.41 L282.21 893.98 L280.68 893.55 L279.15 893.11 L277.62 892.66 L276.09 892.21 L274.57 891.76 L273.04 891.30 L271.52 890.84 L270.00 890.37 L268.49 889.90 L266.97 889.42 L265.46 888.94 L263.94 888.45 L262.43 887.96 L260.92 887.46 L259.42 886.96 L257.91 886.45 L256.41 885.93 L254.91 885.41 L253.41 884.89 L251.92 884.36 L250.42 883.82 L248.93 883.27 L247.44 882.72 L245.96 882.17 L244.47 881.61 L242.99 881.04 L241.51 880.47 L240.04 879.88 L238.57 879.30 L237.09 878.71 L235.63 878.11 L234.16 877.50 L232.70 876.89 L231.24 876.27 L229.78 875.64 L228.33 875.01 L226.88 874.37 L225.43 873.73 L223.99 873.07 L222.55 872.42 L221.11 871.75 L219.68 871.08 L218.25 870.40 L216.82 869.71 L215.40 869.02 L213.98 868.32 L212.56 867.61 L211.14 866.90 L209.74 866.18 L208.33 865.45 L206.93 864.72 L205.53 863.98 L204.13 863.23 L202.74 862.48 L201.35 861.72 L199.97 860.95 L198.59 860.17 L197.22 859.39 L195.84 858.60 L194.48 857.81 L193.11 857.00 L191.76 856.19 L190.40 855.38 L189.06 854.55 L187.71 853.72 L186.37 852.88 L185.04 852.03 L183.71 851.18 L182.39 850.32 L181.07 849.45 L179.76 848.57 L178.45 847.69 L177.15 846.80 L175.86 845.90 L174.57 844.99 L173.28 844.07 L172.00 843.15 L170.73 842.22 L169.47 841.28 L168.20 840.33 L166.95 839.38 L165.70 838.41 L164.46 837.44 L163.22 836.46 L161.99 835.48 L160.77 834.48 L159.55 833.48 L158.34 832.47 L157.14 831.46 L155.94 830.43 L154.75 829.40 L153.56 828.37 L152.38 827.32 L151.21 826.27 L150.04 825.21 L148.88 824.14 L147.73 823.06 L146.58 821.98 L145.44 820.89 L144.31 819.80 L143.18 818.70 L142.06 817.59 L140.95 816.47 L139.84 815.35 L138.74 814.22 L137.64 813.09 L136.55 811.95 L135.47 810.80 L134.39 809.64 L133.32 808.48 L132.26 807.32 L131.20 806.15 L130.15 804.97 L129.11 803.79 L128.07 802.60 L127.04 801.40 L126.01 800.20 L124.99 799.00 L123.98 797.79 L122.97 796.57 L121.97 795.35 L120.97 794.12 L119.98 792.89 L118.99 791.66 L118.02 790.42 L117.04 789.17 L116.08 787.92 L115.11 786.67 L114.16 785.41 L113.21 784.14 L112.26 782.87 L111.32 781.60 L110.39 780.33 L109.46 779.05 L108.53 777.76 L107.61 776.47 L106.70 775.18 L105.79 773.88 L104.89 772.58 L103.99 771.28 L103.10 769.97 L102.21 768.66 L101.33 767.35 L100.45 766.03 L99.57 764.71 L98.70 763.38 L97.84 762.05 L96.98 760.72 L96.13 759.39 L95.27 758.05 L94.43 756.71 L93.59 755.37 L92.75 754.02 L91.92 752.67 L91.09 751.32 L90.27 749.96 L89.45 748.61 L88.63 747.25 L87.82 745.88 L87.01 744.52 L86.21 743.15 L85.41 741.78 L84.62 740.40 L83.82 739.03 L83.04 737.65 L82.25 736.27 L81.48 734.89 L80.70 733.50 L79.93 732.11 L79.16 730.72 L78.40 729.33 L77.64 727.94 L76.88 726.54 L76.13 725.14 L75.38 723.74 L74.63 722.34 L73.89 720.94 L73.15 719.53 L72.42 718.12 L71.68 716.71 L70.96 715.30 L70.23 713.89 L69.51 712.47 L68.79 711.05 L68.08 709.63 L67.36 708.21 L66.66 706.79 L65.95 705.36 L65.25 703.94 L64.55 702.51 L63.85 701.08 L63.16 699.65 L62.47 698.22 L61.78 696.78 L61.10 695.35 L60.42 693.91 L59.74 692.47 L59.06 691.03 L58.39 689.59 L57.72 688.15 L57.06 686.70 L56.39 685.26 L55.73 683.81 L55.07 682.36 L54.42 680.91 L53.77 679.46 L53.11 678.01 L52.47 676.56 L51.82 675.10 L51.18 673.65 L50.54 672.19 L49.90 670.73 L49.27 669.27 L48.64 667.81 L48.01 666.35 L47.38 664.88 L46.76 663.42 L46.13 661.95 Z" fill="#cc9900"/><circle cx="43.40" cy="663.11" r="2.97" fill="#cc9900"/>
<rect x="28" y="15" width="313" height="0" fill="#000"/>
<rect x="28" y="15" width="1313" height="5" fill="#000"/>
<rect x="28" y="1053" width="1313" height="4" fill="#000"/>
<rect x="28" y="15" width="4" height="1042" fill="#000"/>
<rect x="1336" y="15" width="5" height="1042" fill="#000"/>
<rect x="40.70" y="1056" width="4.6" height="19.9" fill="#000"/>
<rect x="104.83" y="1056" width="4.6" height="9.0" fill="#000"/>
<rect x="168.95" y="1056" width="4.6" height="19.9" fill="#000"/>
<rect x="233.07" y="1056" width="4.6" height="9.0" fill="#000"/>
<rect x="297.20" y="1056" width="4.6" height="19.9" fill="#000"/>
<rect x="361.32" y="1056" width="4.6" height="9.0" fill="#000"/>
<rect x="425.45" y="1056" width="4.6" height="19.9" fill="#000"/>
<rect x="489.57" y="1056" width="4.6" height="9.0" fill="#000"/>
<rect x="553.70" y="1056" width="4.6" height="19.9" fill="#000"/>
<rect x="617.83" y="1056" width="4.6" height="9.0" fill="#000"/>
<rect x="681.95" y="1056" width="4.6" height="19.9" fill="#000"/>
<rect x="746.08" y="1056" width="4.6" height="9.0" fill="#000"/>
<rect x="810.20" y="1056" width="4.6" height="19.9" fill="#000"/>
<rect x="874.33" y="1056" width="4.6" height="9.0" fill="#000"/>
<rect x="938.45" y="1056" width="4.6" height="19.9" fill="#000"/>
<rect x="1002.58" y="1056" width="4.6" height="9.0" fill="#000"/>
<rect x="1066.70" y="1056" width="4.6" height="19.9" fill="#000"/>
<rect x="1130.83" y="1056" width="4.6" height="9.0" fill="#000"/>
<rect x="1194.95" y="1056" width="4.6" height="19.9" fill="#000"/>
<rect x="1259.08" y="1056" width="4.6" height="9.0" fill="#000"/>
<rect x="1323.20" y="1056" width="4.6" height="19.9" fill="#000"/>
<text transform="translate(12.19 1123.60) scale(1 1.0942)" font-size="41.40">200</text>
<text transform="translate(140.24 1123.60) scale(1 1.0942)" font-size="41.40">220</text>
<text transform="translate(269.24 1123.60) scale(1 1.0942)" font-size="41.40">240</text>
<text transform="translate(397.09 1123.60) scale(1 1.0942)" font-size="41.40">260</text>
<text transform="translate(525.79 1123.60) scale(1 1.0942)" font-size="41.40">280</text>
<text transform="translate(654.69 1123.60) scale(1 1.0942)" font-size="41.40">300</text>
<text transform="translate(782.84 1123.60) scale(1 1.0942)" font-size="41.40">320</text>
<text transform="translate(911.14 1123.60) scale(1 1.0942)" font-size="41.40">340</text>
<text transform="translate(1039.59 1123.60) scale(1 1.0942)" font-size="41.40">360</text>
<text transform="translate(1167.24 1123.60) scale(1 1.0942)" font-size="41.40">380</text>
<text transform="translate(1296.71 1123.60) scale(1 1.0942)" font-size="41.40">400</text>
<rect x="1055" y="59" width="97" height="6" rx="0.8" fill="#b078de"/>
<rect x="1055" y="114" width="97" height="6" rx="0.8" fill="#00cccc"/>
<rect x="1055" y="169" width="97" height="6" rx="0.8" fill="#cc9900"/>
<text transform="translate(1158.65 77.06) scale(1 1.0105)" font-size="45.97">I</text>
<text transform="translate(1173.13 77.06) scale(1 1.1621)" font-size="39.97">R</text>
<text transform="translate(1199.04 77.06) scale(1 1.0373)" font-size="44.78">P</text>
<text transform="translate(1222.91 77.06) scale(1 1.0652)" font-size="43.61">s</text>
<text transform="translate(1239.19 77.06) scale(1 1.1578)" font-size="40.12">-</text>
<text transform="translate(1250.89 77.06) scale(1 1.0105)" font-size="45.97">H</text>
<text transform="translate(1282.59 77.06) scale(1 1.2482)" font-size="37.21">1</text>
<text transform="translate(1158.65 131.03) scale(1 1.0105)" font-size="45.97">I</text>
<text transform="translate(1173.14 131.03) scale(1 1.1621)" font-size="39.97">R</text>
<text transform="translate(1199.01 131.03) scale(1 1.0373)" font-size="44.78">P</text>
<text transform="translate(1222.91 131.03) scale(1 1.0658)" font-size="43.58">s</text>
<text transform="translate(1239.18 131.03) scale(1 1.1595)" font-size="40.06">-</text>
<text transform="translate(1250.94 131.03) scale(1 1.0105)" font-size="45.97">H</text>
<text transform="translate(1280.89 131.03) scale(1 1.0109)" font-size="45.95">2</text>
<text transform="translate(1158.65 186.03) scale(1 1.0105)" font-size="45.97">I</text>
<text transform="translate(1173.13 186.03) scale(1 1.1621)" font-size="39.97">R</text>
<text transform="translate(1199.04 186.03) scale(1 1.0373)" font-size="44.78">P</text>
<text transform="translate(1222.91 186.03) scale(1 1.0652)" font-size="43.61">s</text>
<text transform="translate(1239.19 186.03) scale(1 1.1578)" font-size="40.12">-</text>
<text transform="translate(1250.89 186.03) scale(1 1.0105)" font-size="45.97">H</text>
<text transform="translate(1281.96 186.03) scale(1 1.2320)" font-size="37.70">3</text>
<text transform="translate(482.70 1191.45) scale(1 1.0964)" font-size="50.25">W</text>
<text transform="translate(529.52 1191.45) scale(1 1.0071)" font-size="54.71">a</text>
<text transform="translate(551.91 1191.45) scale(1 1.0863)" font-size="50.72">v</text>
<text transform="translate(577.43 1191.45) scale(1 1.0333)" font-size="53.32">e</text>
<text transform="translate(599.76 1191.45) scale(1 1.1057)" font-size="49.83">l</text>
<text transform="translate(613.46 1191.45) scale(1 1.0389)" font-size="53.04">e</text>
<text transform="translate(635.33 1191.45) scale(1 1.0356)" font-size="53.21">n</text>
<text transform="translate(659.29 1191.45) scale(1 1.0228)" font-size="53.87">g</text>
<text transform="translate(684.10 1191.45) scale(1 0.9347)" font-size="58.95">t</text>
<text transform="translate(700.14 1191.45) scale(1 1.0639)" font-size="51.79">h</text>
<text transform="translate(772.85 1191.10) scale(1 0.9939)" font-size="54.03">n</text>
<text transform="translate(798.00 1191.10) scale(1 1.0462)" font-size="51.33">m</text>
<path d="M764.8 1150.8 L763.0 1151.7 L759.8 1154.7 L757.1 1158.0 L755.1 1161.2 L754.0 1163.4 L753.1 1166.1 L753.1 1177.4 L754.0 1180.5 L755.1 1182.3 L758.5 1185.9 L762.1 1189.5 L764.3 1191.7 L766.1 1191.3 L763.0 1187.2 L759.4 1183.7 L757.1 1181.0 L756.5 1179.2 L756.0 1176.5 L756.0 1166.6 L756.2 1164.8 L756.9 1162.1 L758.0 1159.8 L760.3 1157.1 L763.9 1153.5 L766.1 1151.5 Z" fill="#000"/>
<path d="M845.0 1149.9 L846.8 1150.6 L850.4 1153.3 L852.6 1155.6 L854.9 1158.5 L857.1 1161.6 L858.5 1164.8 L859.6 1170.2 L859.8 1173.8 L858.9 1177.8 L858.0 1181.0 L855.8 1184.1 L853.5 1186.3 L849.9 1189.5 L847.2 1191.7 L845.9 1191.7 L845.9 1191.3 L846.8 1189.9 L849.9 1186.8 L853.1 1183.2 L854.9 1180.5 L856.2 1177.4 L857.1 1174.2 L857.1 1170.2 L856.2 1166.6 L855.3 1163.4 L854.0 1159.8 L851.7 1157.1 L848.6 1154.0 L845.7 1151.1 Z" fill="#000"/>
</svg></body></html>
